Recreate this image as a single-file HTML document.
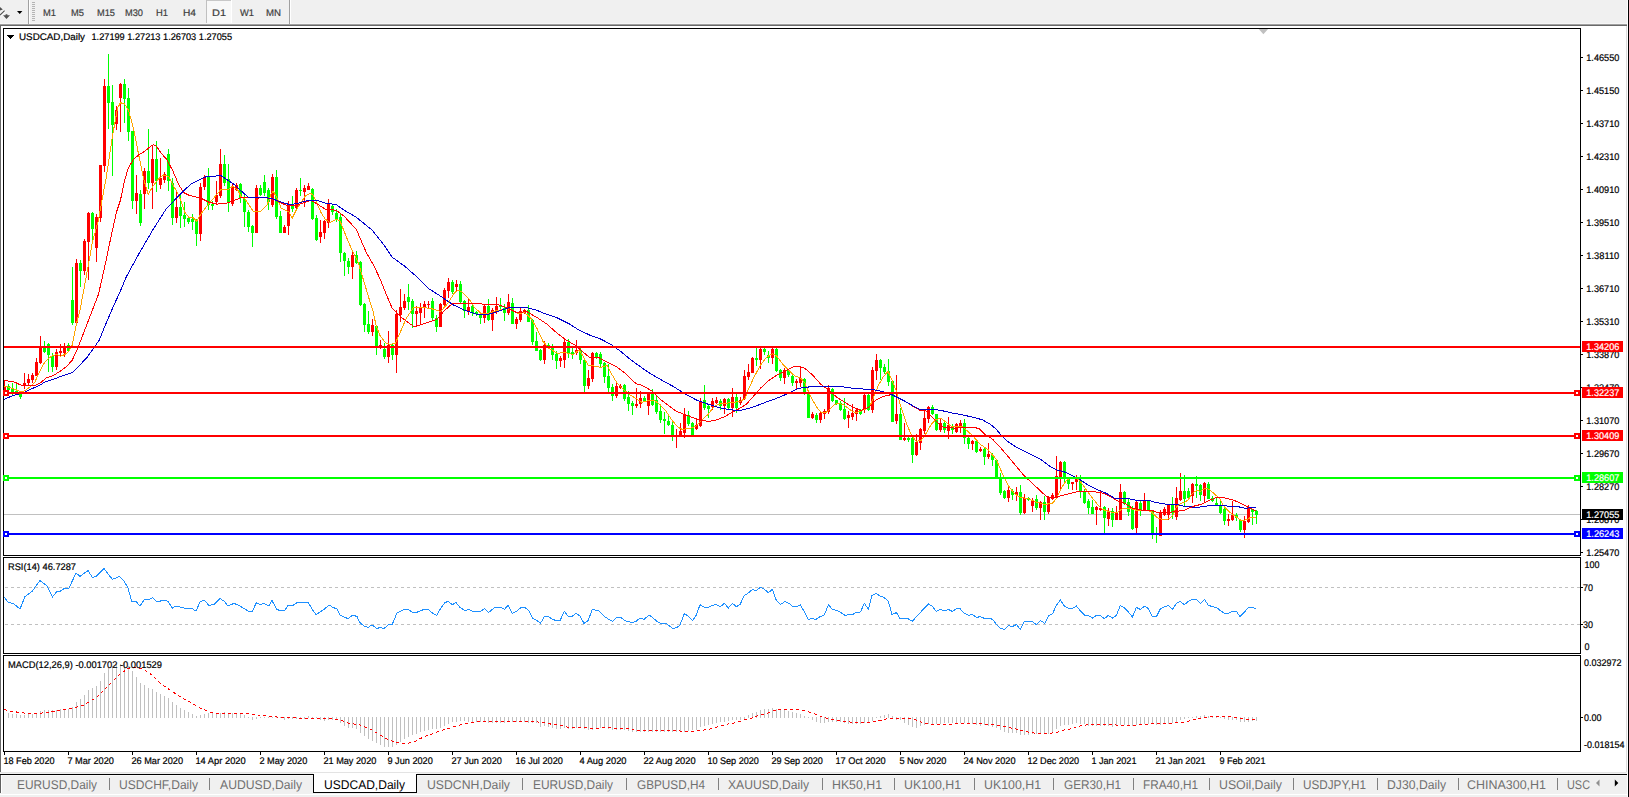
<!DOCTYPE html>
<html><head><meta charset="utf-8"><title>USDCAD,Daily</title>
<style>html,body{margin:0;padding:0;background:#fff;overflow:hidden}svg{display:block}text{font-family:"Liberation Sans",sans-serif;}</style>
</head><body>
<svg width="1629" height="797" viewBox="0 0 1629 797" shape-rendering="crispEdges" text-rendering="geometricPrecision">
<rect x="0" y="0" width="1629" height="797" fill="#ffffff" />
<rect x="0" y="0" width="1629" height="24" fill="#f0f0f0" />
<rect x="0" y="23" width="1629" height="1" fill="#f6f6f6" />
<rect x="0" y="24" width="1629" height="1" fill="#a0a0a0" />
<rect x="0" y="25" width="1629" height="1" fill="#696969" />
<rect x="0" y="26" width="1626" height="2" fill="#ffffff" />
<rect x="1626" y="26" width="1" height="746" fill="#dcdcdc" />
<rect x="0" y="26" width="1" height="746" fill="#696969" />
<rect x="0" y="772" width="1629" height="25" fill="#f0f0f0" />
<rect x="0" y="772" width="1626" height="1" fill="#e3e3e3" />
<rect x="0" y="794" width="1629" height="1" fill="#ffffff" />
<rect x="0" y="775" width="1626" height="1" fill="#f8f8f8" />
<g shape-rendering="geometricPrecision"><path d="M0 7 L2.8 9.6 L0 10.6 z" fill="#505050"/><path d="M0 15.6 L4.8 10.6" stroke="#ffffff" stroke-width="2.6" fill="none"/><path d="M0 15.2 L4.6 10.6" stroke="#505050" stroke-width="1.2" fill="none"/><path d="M3.1 15.2 L5.6 15.2 L5.6 14.2 L7.4 14.2 L7.4 15.2 L10 15.2 L6.5 19 z" fill="#505050"/></g>
<path d="M17 11.1 h5.4 l-2.7 3 z" fill="#000" shape-rendering="geometricPrecision"/>
<rect x="28" y="0" width="1" height="24" fill="#a0a0a0" />
<rect x="29" y="0" width="1" height="24" fill="#ffffff" />
<rect x="32" y="2" width="3" height="1" fill="#b4b4b4" />
<rect x="32" y="4" width="3" height="1" fill="#b4b4b4" />
<rect x="32" y="6" width="3" height="1" fill="#b4b4b4" />
<rect x="32" y="8" width="3" height="1" fill="#b4b4b4" />
<rect x="32" y="10" width="3" height="1" fill="#b4b4b4" />
<rect x="32" y="12" width="3" height="1" fill="#b4b4b4" />
<rect x="32" y="14" width="3" height="1" fill="#b4b4b4" />
<rect x="32" y="16" width="3" height="1" fill="#b4b4b4" />
<rect x="32" y="18" width="3" height="1" fill="#b4b4b4" />
<rect x="32" y="20" width="3" height="1" fill="#b4b4b4" />
<rect x="206" y="1" width="25" height="22" fill="#f8f8f8" />
<rect x="206" y="0" width="25" height="1" fill="#c8c8c8" />
<rect x="206" y="0" width="1" height="23" fill="#c0c0c0" />
<rect x="231" y="0" width="1" height="23" fill="#ffffff" />
<text x="43" y="15.5" font-size="9.5" fill="#404040" stroke="#404040" stroke-width="0.2" text-anchor="start"  textLength="13" lengthAdjust="spacingAndGlyphs">M1</text>
<text x="71" y="15.5" font-size="9.5" fill="#404040" stroke="#404040" stroke-width="0.2" text-anchor="start"  textLength="13" lengthAdjust="spacingAndGlyphs">M5</text>
<text x="97" y="15.5" font-size="9.5" fill="#404040" stroke="#404040" stroke-width="0.2" text-anchor="start"  textLength="18" lengthAdjust="spacingAndGlyphs">M15</text>
<text x="125" y="15.5" font-size="9.5" fill="#404040" stroke="#404040" stroke-width="0.2" text-anchor="start"  textLength="18" lengthAdjust="spacingAndGlyphs">M30</text>
<text x="156" y="15.5" font-size="9.5" fill="#404040" stroke="#404040" stroke-width="0.2" text-anchor="start"  textLength="12" lengthAdjust="spacingAndGlyphs">H1</text>
<text x="183" y="15.5" font-size="9.5" fill="#404040" stroke="#404040" stroke-width="0.2" text-anchor="start"  textLength="13" lengthAdjust="spacingAndGlyphs">H4</text>
<text x="212" y="15.5" font-size="9.5" fill="#404040" stroke="#404040" stroke-width="0.2" text-anchor="start"  textLength="14" lengthAdjust="spacingAndGlyphs">D1</text>
<text x="240" y="15.5" font-size="9.5" fill="#404040" stroke="#404040" stroke-width="0.2" text-anchor="start"  textLength="14" lengthAdjust="spacingAndGlyphs">W1</text>
<text x="266" y="15.5" font-size="9.5" fill="#404040" stroke="#404040" stroke-width="0.2" text-anchor="start"  textLength="15" lengthAdjust="spacingAndGlyphs">MN</text>
<rect x="289" y="0" width="1" height="24" fill="#a0a0a0" />
<rect x="290" y="0" width="1" height="24" fill="#ffffff" />
<rect x="3" y="28" width="1578" height="1" fill="#000" />
<rect x="3" y="555" width="1578" height="1" fill="#000" />
<rect x="3" y="28" width="1" height="528" fill="#000" />
<rect x="1580" y="28" width="1" height="528" fill="#000" />
<rect x="3" y="557" width="1578" height="1" fill="#000" />
<rect x="3" y="653" width="1578" height="1" fill="#000" />
<rect x="3" y="557" width="1" height="97" fill="#000" />
<rect x="1580" y="557" width="1" height="97" fill="#000" />
<rect x="3" y="655" width="1578" height="1" fill="#000" />
<rect x="3" y="751" width="1578" height="1" fill="#000" />
<rect x="3" y="655" width="1" height="97" fill="#000" />
<rect x="1580" y="655" width="1" height="97" fill="#000" />
<path d="M1258.7 29 h9.4 l-4.7 5.2 z" fill="#c0c0c0" shape-rendering="geometricPrecision"/>
<clipPath id="cm"><rect x="4" y="29" width="1576" height="526"/></clipPath>
<g clip-path="url(#cm)">
<rect x="4" y="514" width="1576" height="1" fill="#c0c0c0"/>
<rect x="4" y="380" width="1" height="12" fill="#ff0000"/>
<rect x="3" y="386" width="3" height="5" fill="#ff0000"/>
<rect x="8" y="384" width="1" height="8" fill="#00ff00"/>
<rect x="7" y="386" width="3" height="4" fill="#00ff00"/>
<rect x="12" y="383" width="1" height="12" fill="#00ff00"/>
<rect x="11" y="389" width="3" height="3" fill="#00ff00"/>
<rect x="16" y="382" width="1" height="13" fill="#00ff00"/>
<rect x="15" y="391" width="3" height="3" fill="#00ff00"/>
<rect x="20" y="394" width="1" height="5" fill="#00ff00"/>
<rect x="19" y="394" width="3" height="3" fill="#00ff00"/>
<rect x="24" y="373" width="1" height="16" fill="#ff0000"/>
<rect x="23" y="383" width="3" height="3" fill="#ff0000"/>
<rect x="28" y="374" width="1" height="11" fill="#ff0000"/>
<rect x="27" y="379" width="3" height="4" fill="#ff0000"/>
<rect x="32" y="373" width="1" height="10" fill="#ff0000"/>
<rect x="31" y="375" width="3" height="5" fill="#ff0000"/>
<rect x="36" y="358" width="1" height="18" fill="#ff0000"/>
<rect x="35" y="362" width="3" height="14" fill="#ff0000"/>
<rect x="40" y="336" width="1" height="28" fill="#ff0000"/>
<rect x="39" y="347" width="3" height="16" fill="#ff0000"/>
<rect x="44" y="341" width="1" height="12" fill="#00ff00"/>
<rect x="43" y="347" width="3" height="5" fill="#00ff00"/>
<rect x="48" y="343" width="1" height="29" fill="#00ff00"/>
<rect x="47" y="344" width="3" height="11" fill="#00ff00"/>
<rect x="52" y="353" width="1" height="19" fill="#00ff00"/>
<rect x="51" y="356" width="3" height="11" fill="#00ff00"/>
<rect x="56" y="349" width="1" height="21" fill="#ff0000"/>
<rect x="55" y="352" width="3" height="15" fill="#ff0000"/>
<rect x="60" y="344" width="1" height="13" fill="#ff0000"/>
<rect x="59" y="351" width="3" height="2" fill="#ff0000"/>
<rect x="64" y="343" width="1" height="14" fill="#ff0000"/>
<rect x="63" y="348" width="3" height="5" fill="#ff0000"/>
<rect x="68" y="343" width="1" height="9" fill="#00ff00"/>
<rect x="67" y="345" width="3" height="6" fill="#00ff00"/>
<rect x="72" y="267" width="1" height="58" fill="#00ff00"/>
<rect x="71" y="300" width="3" height="23" fill="#00ff00"/>
<rect x="76" y="259" width="1" height="64" fill="#ff0000"/>
<rect x="75" y="263" width="3" height="60" fill="#ff0000"/>
<rect x="80" y="260" width="1" height="27" fill="#00ff00"/>
<rect x="79" y="263" width="3" height="8" fill="#00ff00"/>
<rect x="84" y="239" width="1" height="36" fill="#ff0000"/>
<rect x="83" y="241" width="3" height="30" fill="#ff0000"/>
<rect x="88" y="212" width="1" height="68" fill="#ff0000"/>
<rect x="87" y="213" width="3" height="29" fill="#ff0000"/>
<rect x="92" y="212" width="1" height="29" fill="#00ff00"/>
<rect x="91" y="213" width="3" height="16" fill="#00ff00"/>
<rect x="96" y="214" width="1" height="48" fill="#ff0000"/>
<rect x="95" y="217" width="3" height="31" fill="#ff0000"/>
<rect x="100" y="165" width="1" height="57" fill="#ff0000"/>
<rect x="99" y="165" width="3" height="53" fill="#ff0000"/>
<rect x="104" y="79" width="1" height="93" fill="#ff0000"/>
<rect x="103" y="86" width="3" height="80" fill="#ff0000"/>
<rect x="108" y="54" width="1" height="75" fill="#00ff00"/>
<rect x="107" y="86" width="3" height="17" fill="#00ff00"/>
<rect x="112" y="85" width="1" height="91" fill="#00ff00"/>
<rect x="111" y="102" width="3" height="23" fill="#00ff00"/>
<rect x="116" y="106" width="1" height="24" fill="#ff0000"/>
<rect x="115" y="110" width="3" height="14" fill="#ff0000"/>
<rect x="120" y="83" width="1" height="49" fill="#ff0000"/>
<rect x="119" y="84" width="3" height="14" fill="#ff0000"/>
<rect x="124" y="79" width="1" height="44" fill="#00ff00"/>
<rect x="123" y="84" width="3" height="15" fill="#00ff00"/>
<rect x="128" y="88" width="1" height="53" fill="#00ff00"/>
<rect x="127" y="98" width="3" height="34" fill="#00ff00"/>
<rect x="132" y="131" width="1" height="78" fill="#00ff00"/>
<rect x="131" y="131" width="3" height="70" fill="#00ff00"/>
<rect x="136" y="175" width="1" height="39" fill="#ff0000"/>
<rect x="135" y="193" width="3" height="8" fill="#ff0000"/>
<rect x="140" y="190" width="1" height="36" fill="#00ff00"/>
<rect x="139" y="194" width="3" height="29" fill="#00ff00"/>
<rect x="144" y="168" width="1" height="41" fill="#ff0000"/>
<rect x="143" y="171" width="3" height="23" fill="#ff0000"/>
<rect x="148" y="129" width="1" height="60" fill="#00ff00"/>
<rect x="147" y="171" width="3" height="12" fill="#00ff00"/>
<rect x="152" y="146" width="1" height="63" fill="#ff0000"/>
<rect x="151" y="159" width="3" height="24" fill="#ff0000"/>
<rect x="156" y="141" width="1" height="51" fill="#00ff00"/>
<rect x="155" y="159" width="3" height="22" fill="#00ff00"/>
<rect x="160" y="158" width="1" height="31" fill="#ff0000"/>
<rect x="159" y="178" width="3" height="7" fill="#ff0000"/>
<rect x="164" y="172" width="1" height="11" fill="#ff0000"/>
<rect x="163" y="174" width="3" height="6" fill="#ff0000"/>
<rect x="168" y="149" width="1" height="42" fill="#00ff00"/>
<rect x="167" y="154" width="3" height="27" fill="#00ff00"/>
<rect x="172" y="178" width="1" height="47" fill="#00ff00"/>
<rect x="171" y="183" width="3" height="35" fill="#00ff00"/>
<rect x="176" y="192" width="1" height="31" fill="#ff0000"/>
<rect x="175" y="207" width="3" height="11" fill="#ff0000"/>
<rect x="180" y="195" width="1" height="33" fill="#00ff00"/>
<rect x="179" y="207" width="3" height="9" fill="#00ff00"/>
<rect x="184" y="202" width="1" height="25" fill="#00ff00"/>
<rect x="183" y="215" width="3" height="4" fill="#00ff00"/>
<rect x="188" y="216" width="1" height="8" fill="#00ff00"/>
<rect x="187" y="218" width="3" height="4" fill="#00ff00"/>
<rect x="192" y="214" width="1" height="16" fill="#00ff00"/>
<rect x="191" y="219" width="3" height="3" fill="#00ff00"/>
<rect x="196" y="219" width="1" height="27" fill="#00ff00"/>
<rect x="195" y="221" width="3" height="13" fill="#00ff00"/>
<rect x="200" y="183" width="1" height="58" fill="#ff0000"/>
<rect x="199" y="187" width="3" height="47" fill="#ff0000"/>
<rect x="204" y="175" width="1" height="15" fill="#ff0000"/>
<rect x="203" y="178" width="3" height="9" fill="#ff0000"/>
<rect x="208" y="168" width="1" height="42" fill="#00ff00"/>
<rect x="207" y="176" width="3" height="29" fill="#00ff00"/>
<rect x="212" y="201" width="1" height="9" fill="#00ff00"/>
<rect x="211" y="204" width="3" height="2" fill="#00ff00"/>
<rect x="216" y="181" width="1" height="23" fill="#ff0000"/>
<rect x="215" y="195" width="3" height="7" fill="#ff0000"/>
<rect x="220" y="149" width="1" height="49" fill="#ff0000"/>
<rect x="219" y="164" width="3" height="32" fill="#ff0000"/>
<rect x="224" y="155" width="1" height="31" fill="#00ff00"/>
<rect x="223" y="164" width="3" height="19" fill="#00ff00"/>
<rect x="228" y="164" width="1" height="48" fill="#00ff00"/>
<rect x="227" y="179" width="3" height="23" fill="#00ff00"/>
<rect x="232" y="183" width="1" height="23" fill="#ff0000"/>
<rect x="231" y="187" width="3" height="17" fill="#ff0000"/>
<rect x="236" y="183" width="1" height="8" fill="#ff0000"/>
<rect x="235" y="185" width="3" height="5" fill="#ff0000"/>
<rect x="240" y="183" width="1" height="20" fill="#00ff00"/>
<rect x="239" y="184" width="3" height="14" fill="#00ff00"/>
<rect x="244" y="195" width="1" height="32" fill="#00ff00"/>
<rect x="243" y="199" width="3" height="13" fill="#00ff00"/>
<rect x="248" y="210" width="1" height="22" fill="#00ff00"/>
<rect x="247" y="212" width="3" height="15" fill="#00ff00"/>
<rect x="252" y="225" width="1" height="22" fill="#00ff00"/>
<rect x="251" y="226" width="3" height="7" fill="#00ff00"/>
<rect x="256" y="185" width="1" height="48" fill="#ff0000"/>
<rect x="255" y="188" width="3" height="45" fill="#ff0000"/>
<rect x="260" y="185" width="1" height="11" fill="#00ff00"/>
<rect x="259" y="188" width="3" height="7" fill="#00ff00"/>
<rect x="264" y="175" width="1" height="21" fill="#00ff00"/>
<rect x="263" y="182" width="3" height="11" fill="#00ff00"/>
<rect x="268" y="188" width="1" height="22" fill="#00ff00"/>
<rect x="267" y="190" width="3" height="12" fill="#00ff00"/>
<rect x="272" y="174" width="1" height="33" fill="#ff0000"/>
<rect x="271" y="177" width="3" height="28" fill="#ff0000"/>
<rect x="276" y="170" width="1" height="49" fill="#00ff00"/>
<rect x="275" y="177" width="3" height="40" fill="#00ff00"/>
<rect x="280" y="211" width="1" height="22" fill="#00ff00"/>
<rect x="279" y="216" width="3" height="17" fill="#00ff00"/>
<rect x="284" y="225" width="1" height="8" fill="#ff0000"/>
<rect x="283" y="227" width="3" height="6" fill="#ff0000"/>
<rect x="288" y="201" width="1" height="34" fill="#ff0000"/>
<rect x="287" y="205" width="3" height="21" fill="#ff0000"/>
<rect x="292" y="196" width="1" height="16" fill="#00ff00"/>
<rect x="291" y="206" width="3" height="3" fill="#00ff00"/>
<rect x="296" y="188" width="1" height="22" fill="#ff0000"/>
<rect x="295" y="190" width="3" height="18" fill="#ff0000"/>
<rect x="300" y="178" width="1" height="18" fill="#00ff00"/>
<rect x="299" y="190" width="3" height="1" fill="#00ff00"/>
<rect x="304" y="185" width="1" height="22" fill="#ff0000"/>
<rect x="303" y="188" width="3" height="4" fill="#ff0000"/>
<rect x="308" y="183" width="1" height="7" fill="#ff0000"/>
<rect x="307" y="186" width="3" height="4" fill="#ff0000"/>
<rect x="312" y="188" width="1" height="32" fill="#00ff00"/>
<rect x="311" y="189" width="3" height="30" fill="#00ff00"/>
<rect x="316" y="215" width="1" height="26" fill="#00ff00"/>
<rect x="315" y="218" width="3" height="22" fill="#00ff00"/>
<rect x="320" y="220" width="1" height="23" fill="#ff0000"/>
<rect x="319" y="232" width="3" height="5" fill="#ff0000"/>
<rect x="324" y="220" width="1" height="19" fill="#ff0000"/>
<rect x="323" y="221" width="3" height="12" fill="#ff0000"/>
<rect x="328" y="199" width="1" height="29" fill="#ff0000"/>
<rect x="327" y="204" width="3" height="19" fill="#ff0000"/>
<rect x="332" y="204" width="1" height="11" fill="#00ff00"/>
<rect x="331" y="206" width="3" height="6" fill="#00ff00"/>
<rect x="336" y="209" width="1" height="13" fill="#00ff00"/>
<rect x="335" y="213" width="3" height="6" fill="#00ff00"/>
<rect x="340" y="214" width="1" height="48" fill="#00ff00"/>
<rect x="339" y="217" width="3" height="36" fill="#00ff00"/>
<rect x="344" y="252" width="1" height="24" fill="#00ff00"/>
<rect x="343" y="253" width="3" height="8" fill="#00ff00"/>
<rect x="348" y="258" width="1" height="16" fill="#00ff00"/>
<rect x="347" y="261" width="3" height="6" fill="#00ff00"/>
<rect x="352" y="252" width="1" height="27" fill="#ff0000"/>
<rect x="351" y="255" width="3" height="12" fill="#ff0000"/>
<rect x="356" y="251" width="1" height="13" fill="#00ff00"/>
<rect x="355" y="255" width="3" height="8" fill="#00ff00"/>
<rect x="360" y="261" width="1" height="45" fill="#00ff00"/>
<rect x="359" y="262" width="3" height="43" fill="#00ff00"/>
<rect x="364" y="303" width="1" height="29" fill="#00ff00"/>
<rect x="363" y="304" width="3" height="21" fill="#00ff00"/>
<rect x="368" y="311" width="1" height="23" fill="#00ff00"/>
<rect x="367" y="324" width="3" height="8" fill="#00ff00"/>
<rect x="372" y="319" width="1" height="17" fill="#ff0000"/>
<rect x="371" y="325" width="3" height="7" fill="#ff0000"/>
<rect x="376" y="325" width="1" height="30" fill="#00ff00"/>
<rect x="375" y="326" width="3" height="20" fill="#00ff00"/>
<rect x="380" y="340" width="1" height="9" fill="#ff0000"/>
<rect x="379" y="345" width="3" height="3" fill="#ff0000"/>
<rect x="384" y="343" width="1" height="16" fill="#00ff00"/>
<rect x="383" y="349" width="3" height="8" fill="#00ff00"/>
<rect x="388" y="331" width="1" height="32" fill="#ff0000"/>
<rect x="387" y="345" width="3" height="12" fill="#ff0000"/>
<rect x="392" y="343" width="1" height="17" fill="#00ff00"/>
<rect x="391" y="345" width="3" height="10" fill="#00ff00"/>
<rect x="396" y="310" width="1" height="63" fill="#ff0000"/>
<rect x="395" y="314" width="3" height="41" fill="#ff0000"/>
<rect x="400" y="289" width="1" height="33" fill="#ff0000"/>
<rect x="399" y="307" width="3" height="8" fill="#ff0000"/>
<rect x="404" y="294" width="1" height="16" fill="#ff0000"/>
<rect x="403" y="301" width="3" height="7" fill="#ff0000"/>
<rect x="408" y="284" width="1" height="26" fill="#00ff00"/>
<rect x="407" y="297" width="3" height="5" fill="#00ff00"/>
<rect x="412" y="299" width="1" height="29" fill="#00ff00"/>
<rect x="411" y="301" width="3" height="13" fill="#00ff00"/>
<rect x="416" y="306" width="1" height="20" fill="#ff0000"/>
<rect x="415" y="311" width="3" height="3" fill="#ff0000"/>
<rect x="420" y="303" width="1" height="21" fill="#ff0000"/>
<rect x="419" y="307" width="3" height="6" fill="#ff0000"/>
<rect x="424" y="301" width="1" height="17" fill="#ff0000"/>
<rect x="423" y="304" width="3" height="4" fill="#ff0000"/>
<rect x="428" y="301" width="1" height="7" fill="#ff0000"/>
<rect x="427" y="304" width="3" height="1" fill="#ff0000"/>
<rect x="432" y="298" width="1" height="22" fill="#00ff00"/>
<rect x="431" y="301" width="3" height="17" fill="#00ff00"/>
<rect x="436" y="315" width="1" height="17" fill="#00ff00"/>
<rect x="435" y="318" width="3" height="9" fill="#00ff00"/>
<rect x="440" y="303" width="1" height="24" fill="#ff0000"/>
<rect x="439" y="304" width="3" height="23" fill="#ff0000"/>
<rect x="444" y="288" width="1" height="19" fill="#ff0000"/>
<rect x="443" y="290" width="3" height="15" fill="#ff0000"/>
<rect x="448" y="278" width="1" height="20" fill="#ff0000"/>
<rect x="447" y="282" width="3" height="9" fill="#ff0000"/>
<rect x="452" y="280" width="1" height="14" fill="#00ff00"/>
<rect x="451" y="282" width="3" height="10" fill="#00ff00"/>
<rect x="456" y="280" width="1" height="11" fill="#ff0000"/>
<rect x="455" y="284" width="3" height="3" fill="#ff0000"/>
<rect x="460" y="281" width="1" height="23" fill="#00ff00"/>
<rect x="459" y="284" width="3" height="18" fill="#00ff00"/>
<rect x="464" y="300" width="1" height="18" fill="#00ff00"/>
<rect x="463" y="301" width="3" height="10" fill="#00ff00"/>
<rect x="468" y="299" width="1" height="16" fill="#ff0000"/>
<rect x="467" y="307" width="3" height="5" fill="#ff0000"/>
<rect x="472" y="304" width="1" height="12" fill="#00ff00"/>
<rect x="471" y="306" width="3" height="7" fill="#00ff00"/>
<rect x="476" y="311" width="1" height="5" fill="#00ff00"/>
<rect x="475" y="312" width="3" height="2" fill="#00ff00"/>
<rect x="480" y="313" width="1" height="11" fill="#00ff00"/>
<rect x="479" y="315" width="3" height="3" fill="#00ff00"/>
<rect x="484" y="304" width="1" height="19" fill="#ff0000"/>
<rect x="483" y="306" width="3" height="12" fill="#ff0000"/>
<rect x="488" y="299" width="1" height="22" fill="#00ff00"/>
<rect x="487" y="306" width="3" height="14" fill="#00ff00"/>
<rect x="492" y="308" width="1" height="23" fill="#ff0000"/>
<rect x="491" y="310" width="3" height="10" fill="#ff0000"/>
<rect x="496" y="297" width="1" height="17" fill="#ff0000"/>
<rect x="495" y="306" width="3" height="6" fill="#ff0000"/>
<rect x="500" y="298" width="1" height="12" fill="#00ff00"/>
<rect x="499" y="305" width="3" height="2" fill="#00ff00"/>
<rect x="504" y="304" width="1" height="17" fill="#00ff00"/>
<rect x="503" y="308" width="3" height="5" fill="#00ff00"/>
<rect x="508" y="294" width="1" height="21" fill="#ff0000"/>
<rect x="507" y="302" width="3" height="11" fill="#ff0000"/>
<rect x="512" y="298" width="1" height="26" fill="#00ff00"/>
<rect x="511" y="303" width="3" height="21" fill="#00ff00"/>
<rect x="516" y="317" width="1" height="12" fill="#ff0000"/>
<rect x="515" y="319" width="3" height="5" fill="#ff0000"/>
<rect x="520" y="308" width="1" height="14" fill="#ff0000"/>
<rect x="519" y="311" width="3" height="9" fill="#ff0000"/>
<rect x="524" y="309" width="1" height="5" fill="#ff0000"/>
<rect x="523" y="310" width="3" height="3" fill="#ff0000"/>
<rect x="528" y="305" width="1" height="17" fill="#00ff00"/>
<rect x="527" y="310" width="3" height="12" fill="#00ff00"/>
<rect x="532" y="319" width="1" height="26" fill="#00ff00"/>
<rect x="531" y="320" width="3" height="22" fill="#00ff00"/>
<rect x="536" y="332" width="1" height="19" fill="#00ff00"/>
<rect x="535" y="341" width="3" height="10" fill="#00ff00"/>
<rect x="540" y="349" width="1" height="12" fill="#00ff00"/>
<rect x="539" y="350" width="3" height="10" fill="#00ff00"/>
<rect x="544" y="341" width="1" height="23" fill="#ff0000"/>
<rect x="543" y="345" width="3" height="15" fill="#ff0000"/>
<rect x="548" y="343" width="1" height="6" fill="#00ff00"/>
<rect x="547" y="345" width="3" height="3" fill="#00ff00"/>
<rect x="552" y="344" width="1" height="16" fill="#00ff00"/>
<rect x="551" y="348" width="3" height="7" fill="#00ff00"/>
<rect x="556" y="351" width="1" height="18" fill="#00ff00"/>
<rect x="555" y="354" width="3" height="7" fill="#00ff00"/>
<rect x="560" y="356" width="1" height="11" fill="#ff0000"/>
<rect x="559" y="358" width="3" height="3" fill="#ff0000"/>
<rect x="564" y="339" width="1" height="29" fill="#ff0000"/>
<rect x="563" y="342" width="3" height="18" fill="#ff0000"/>
<rect x="568" y="339" width="1" height="19" fill="#00ff00"/>
<rect x="567" y="342" width="3" height="12" fill="#00ff00"/>
<rect x="572" y="346" width="1" height="13" fill="#00ff00"/>
<rect x="571" y="352" width="3" height="3" fill="#00ff00"/>
<rect x="576" y="340" width="1" height="15" fill="#ff0000"/>
<rect x="575" y="350" width="3" height="3" fill="#ff0000"/>
<rect x="580" y="348" width="1" height="16" fill="#00ff00"/>
<rect x="579" y="350" width="3" height="10" fill="#00ff00"/>
<rect x="584" y="358" width="1" height="34" fill="#00ff00"/>
<rect x="583" y="360" width="3" height="26" fill="#00ff00"/>
<rect x="588" y="370" width="1" height="19" fill="#ff0000"/>
<rect x="587" y="378" width="3" height="8" fill="#ff0000"/>
<rect x="592" y="352" width="1" height="30" fill="#ff0000"/>
<rect x="591" y="353" width="3" height="26" fill="#ff0000"/>
<rect x="596" y="352" width="1" height="7" fill="#00ff00"/>
<rect x="595" y="353" width="3" height="4" fill="#00ff00"/>
<rect x="600" y="352" width="1" height="15" fill="#00ff00"/>
<rect x="599" y="354" width="3" height="10" fill="#00ff00"/>
<rect x="604" y="362" width="1" height="21" fill="#00ff00"/>
<rect x="603" y="363" width="3" height="14" fill="#00ff00"/>
<rect x="608" y="364" width="1" height="30" fill="#00ff00"/>
<rect x="607" y="376" width="3" height="12" fill="#00ff00"/>
<rect x="612" y="384" width="1" height="17" fill="#00ff00"/>
<rect x="611" y="387" width="3" height="9" fill="#00ff00"/>
<rect x="616" y="382" width="1" height="16" fill="#ff0000"/>
<rect x="615" y="386" width="3" height="10" fill="#ff0000"/>
<rect x="620" y="384" width="1" height="5" fill="#ff0000"/>
<rect x="619" y="386" width="3" height="2" fill="#ff0000"/>
<rect x="624" y="384" width="1" height="17" fill="#00ff00"/>
<rect x="623" y="385" width="3" height="14" fill="#00ff00"/>
<rect x="628" y="391" width="1" height="20" fill="#00ff00"/>
<rect x="627" y="397" width="3" height="7" fill="#00ff00"/>
<rect x="632" y="401" width="1" height="14" fill="#00ff00"/>
<rect x="631" y="403" width="3" height="3" fill="#00ff00"/>
<rect x="636" y="388" width="1" height="20" fill="#ff0000"/>
<rect x="635" y="404" width="3" height="2" fill="#ff0000"/>
<rect x="640" y="391" width="1" height="17" fill="#ff0000"/>
<rect x="639" y="398" width="3" height="6" fill="#ff0000"/>
<rect x="644" y="396" width="1" height="6" fill="#00ff00"/>
<rect x="643" y="398" width="3" height="3" fill="#00ff00"/>
<rect x="648" y="392" width="1" height="23" fill="#ff0000"/>
<rect x="647" y="394" width="3" height="12" fill="#ff0000"/>
<rect x="652" y="389" width="1" height="17" fill="#00ff00"/>
<rect x="651" y="394" width="3" height="11" fill="#00ff00"/>
<rect x="656" y="396" width="1" height="18" fill="#00ff00"/>
<rect x="655" y="400" width="3" height="12" fill="#00ff00"/>
<rect x="660" y="406" width="1" height="17" fill="#00ff00"/>
<rect x="659" y="411" width="3" height="9" fill="#00ff00"/>
<rect x="664" y="412" width="1" height="22" fill="#00ff00"/>
<rect x="663" y="419" width="3" height="2" fill="#00ff00"/>
<rect x="668" y="415" width="1" height="11" fill="#00ff00"/>
<rect x="667" y="421" width="3" height="4" fill="#00ff00"/>
<rect x="672" y="421" width="1" height="20" fill="#00ff00"/>
<rect x="671" y="425" width="3" height="12" fill="#00ff00"/>
<rect x="676" y="429" width="1" height="19" fill="#ff0000"/>
<rect x="675" y="435" width="3" height="2" fill="#ff0000"/>
<rect x="680" y="423" width="1" height="13" fill="#ff0000"/>
<rect x="679" y="431" width="3" height="4" fill="#ff0000"/>
<rect x="684" y="408" width="1" height="30" fill="#ff0000"/>
<rect x="683" y="414" width="3" height="19" fill="#ff0000"/>
<rect x="688" y="411" width="1" height="15" fill="#00ff00"/>
<rect x="687" y="415" width="3" height="9" fill="#00ff00"/>
<rect x="692" y="422" width="1" height="13" fill="#00ff00"/>
<rect x="691" y="423" width="3" height="12" fill="#00ff00"/>
<rect x="696" y="419" width="1" height="11" fill="#ff0000"/>
<rect x="695" y="425" width="3" height="4" fill="#ff0000"/>
<rect x="700" y="398" width="1" height="29" fill="#ff0000"/>
<rect x="699" y="401" width="3" height="25" fill="#ff0000"/>
<rect x="704" y="385" width="1" height="25" fill="#00ff00"/>
<rect x="703" y="400" width="3" height="8" fill="#00ff00"/>
<rect x="708" y="405" width="1" height="13" fill="#00ff00"/>
<rect x="707" y="406" width="3" height="3" fill="#00ff00"/>
<rect x="712" y="398" width="1" height="12" fill="#ff0000"/>
<rect x="711" y="401" width="3" height="6" fill="#ff0000"/>
<rect x="716" y="397" width="1" height="7" fill="#ff0000"/>
<rect x="715" y="400" width="3" height="3" fill="#ff0000"/>
<rect x="720" y="399" width="1" height="11" fill="#00ff00"/>
<rect x="719" y="401" width="3" height="5" fill="#00ff00"/>
<rect x="724" y="398" width="1" height="16" fill="#ff0000"/>
<rect x="723" y="399" width="3" height="7" fill="#ff0000"/>
<rect x="728" y="398" width="1" height="11" fill="#00ff00"/>
<rect x="727" y="399" width="3" height="9" fill="#00ff00"/>
<rect x="732" y="388" width="1" height="29" fill="#ff0000"/>
<rect x="731" y="397" width="3" height="11" fill="#ff0000"/>
<rect x="736" y="394" width="1" height="19" fill="#00ff00"/>
<rect x="735" y="397" width="3" height="11" fill="#00ff00"/>
<rect x="740" y="397" width="1" height="8" fill="#ff0000"/>
<rect x="739" y="400" width="3" height="3" fill="#ff0000"/>
<rect x="744" y="370" width="1" height="30" fill="#ff0000"/>
<rect x="743" y="376" width="3" height="23" fill="#ff0000"/>
<rect x="748" y="364" width="1" height="16" fill="#ff0000"/>
<rect x="747" y="372" width="3" height="5" fill="#ff0000"/>
<rect x="752" y="357" width="1" height="16" fill="#ff0000"/>
<rect x="751" y="358" width="3" height="15" fill="#ff0000"/>
<rect x="756" y="348" width="1" height="18" fill="#00ff00"/>
<rect x="755" y="358" width="3" height="2" fill="#00ff00"/>
<rect x="760" y="348" width="1" height="21" fill="#ff0000"/>
<rect x="759" y="349" width="3" height="11" fill="#ff0000"/>
<rect x="764" y="348" width="1" height="7" fill="#00ff00"/>
<rect x="763" y="349" width="3" height="3" fill="#00ff00"/>
<rect x="768" y="351" width="1" height="12" fill="#00ff00"/>
<rect x="767" y="355" width="3" height="3" fill="#00ff00"/>
<rect x="772" y="348" width="1" height="16" fill="#ff0000"/>
<rect x="771" y="349" width="3" height="9" fill="#ff0000"/>
<rect x="776" y="348" width="1" height="24" fill="#00ff00"/>
<rect x="775" y="349" width="3" height="22" fill="#00ff00"/>
<rect x="780" y="369" width="1" height="12" fill="#00ff00"/>
<rect x="779" y="370" width="3" height="8" fill="#00ff00"/>
<rect x="784" y="368" width="1" height="16" fill="#ff0000"/>
<rect x="783" y="370" width="3" height="8" fill="#ff0000"/>
<rect x="788" y="369" width="1" height="8" fill="#00ff00"/>
<rect x="787" y="370" width="3" height="5" fill="#00ff00"/>
<rect x="792" y="375" width="1" height="11" fill="#00ff00"/>
<rect x="791" y="376" width="3" height="7" fill="#00ff00"/>
<rect x="796" y="379" width="1" height="10" fill="#ff0000"/>
<rect x="795" y="381" width="3" height="2" fill="#ff0000"/>
<rect x="800" y="366" width="1" height="21" fill="#ff0000"/>
<rect x="799" y="378" width="3" height="5" fill="#ff0000"/>
<rect x="804" y="378" width="1" height="17" fill="#00ff00"/>
<rect x="803" y="379" width="3" height="14" fill="#00ff00"/>
<rect x="808" y="393" width="1" height="25" fill="#00ff00"/>
<rect x="807" y="394" width="3" height="24" fill="#00ff00"/>
<rect x="812" y="412" width="1" height="7" fill="#ff0000"/>
<rect x="811" y="414" width="3" height="4" fill="#ff0000"/>
<rect x="816" y="413" width="1" height="10" fill="#00ff00"/>
<rect x="815" y="415" width="3" height="5" fill="#00ff00"/>
<rect x="820" y="411" width="1" height="12" fill="#ff0000"/>
<rect x="819" y="413" width="3" height="7" fill="#ff0000"/>
<rect x="824" y="409" width="1" height="10" fill="#ff0000"/>
<rect x="823" y="411" width="3" height="3" fill="#ff0000"/>
<rect x="828" y="385" width="1" height="29" fill="#ff0000"/>
<rect x="827" y="388" width="3" height="24" fill="#ff0000"/>
<rect x="832" y="388" width="1" height="14" fill="#00ff00"/>
<rect x="831" y="389" width="3" height="12" fill="#00ff00"/>
<rect x="836" y="400" width="1" height="5" fill="#00ff00"/>
<rect x="835" y="400" width="3" height="4" fill="#00ff00"/>
<rect x="840" y="401" width="1" height="10" fill="#00ff00"/>
<rect x="839" y="403" width="3" height="7" fill="#00ff00"/>
<rect x="844" y="398" width="1" height="22" fill="#00ff00"/>
<rect x="843" y="409" width="3" height="10" fill="#00ff00"/>
<rect x="848" y="411" width="1" height="17" fill="#ff0000"/>
<rect x="847" y="415" width="3" height="3" fill="#ff0000"/>
<rect x="852" y="404" width="1" height="16" fill="#ff0000"/>
<rect x="851" y="413" width="3" height="4" fill="#ff0000"/>
<rect x="856" y="408" width="1" height="13" fill="#ff0000"/>
<rect x="855" y="410" width="3" height="4" fill="#ff0000"/>
<rect x="860" y="409" width="1" height="6" fill="#00ff00"/>
<rect x="859" y="410" width="3" height="4" fill="#00ff00"/>
<rect x="864" y="394" width="1" height="19" fill="#ff0000"/>
<rect x="863" y="395" width="3" height="14" fill="#ff0000"/>
<rect x="868" y="394" width="1" height="17" fill="#00ff00"/>
<rect x="867" y="395" width="3" height="15" fill="#00ff00"/>
<rect x="872" y="367" width="1" height="46" fill="#ff0000"/>
<rect x="871" y="370" width="3" height="40" fill="#ff0000"/>
<rect x="876" y="354" width="1" height="26" fill="#ff0000"/>
<rect x="875" y="360" width="3" height="11" fill="#ff0000"/>
<rect x="880" y="359" width="1" height="21" fill="#00ff00"/>
<rect x="879" y="360" width="3" height="8" fill="#00ff00"/>
<rect x="884" y="364" width="1" height="10" fill="#00ff00"/>
<rect x="883" y="367" width="3" height="5" fill="#00ff00"/>
<rect x="888" y="359" width="1" height="27" fill="#00ff00"/>
<rect x="887" y="371" width="3" height="11" fill="#00ff00"/>
<rect x="892" y="380" width="1" height="42" fill="#00ff00"/>
<rect x="891" y="381" width="3" height="41" fill="#00ff00"/>
<rect x="896" y="375" width="1" height="49" fill="#ff0000"/>
<rect x="895" y="414" width="3" height="7" fill="#ff0000"/>
<rect x="900" y="408" width="1" height="32" fill="#00ff00"/>
<rect x="899" y="414" width="3" height="26" fill="#00ff00"/>
<rect x="904" y="423" width="1" height="18" fill="#ff0000"/>
<rect x="903" y="438" width="3" height="2" fill="#ff0000"/>
<rect x="908" y="437" width="1" height="5" fill="#00ff00"/>
<rect x="907" y="438" width="3" height="2" fill="#00ff00"/>
<rect x="912" y="437" width="1" height="26" fill="#00ff00"/>
<rect x="911" y="438" width="3" height="17" fill="#00ff00"/>
<rect x="916" y="434" width="1" height="22" fill="#ff0000"/>
<rect x="915" y="442" width="3" height="13" fill="#ff0000"/>
<rect x="920" y="428" width="1" height="22" fill="#ff0000"/>
<rect x="919" y="429" width="3" height="14" fill="#ff0000"/>
<rect x="924" y="411" width="1" height="23" fill="#ff0000"/>
<rect x="923" y="418" width="3" height="13" fill="#ff0000"/>
<rect x="928" y="406" width="1" height="17" fill="#ff0000"/>
<rect x="927" y="407" width="3" height="12" fill="#ff0000"/>
<rect x="932" y="405" width="1" height="10" fill="#00ff00"/>
<rect x="931" y="407" width="3" height="7" fill="#00ff00"/>
<rect x="936" y="414" width="1" height="17" fill="#00ff00"/>
<rect x="935" y="414" width="3" height="16" fill="#00ff00"/>
<rect x="940" y="418" width="1" height="14" fill="#ff0000"/>
<rect x="939" y="423" width="3" height="7" fill="#ff0000"/>
<rect x="944" y="421" width="1" height="12" fill="#00ff00"/>
<rect x="943" y="423" width="3" height="7" fill="#00ff00"/>
<rect x="948" y="417" width="1" height="22" fill="#ff0000"/>
<rect x="947" y="425" width="3" height="6" fill="#ff0000"/>
<rect x="952" y="424" width="1" height="10" fill="#00ff00"/>
<rect x="951" y="426" width="3" height="4" fill="#00ff00"/>
<rect x="956" y="423" width="1" height="10" fill="#ff0000"/>
<rect x="955" y="424" width="3" height="8" fill="#ff0000"/>
<rect x="960" y="420" width="1" height="13" fill="#ff0000"/>
<rect x="959" y="423" width="3" height="4" fill="#ff0000"/>
<rect x="964" y="419" width="1" height="25" fill="#00ff00"/>
<rect x="963" y="423" width="3" height="15" fill="#00ff00"/>
<rect x="968" y="437" width="1" height="12" fill="#00ff00"/>
<rect x="967" y="438" width="3" height="6" fill="#00ff00"/>
<rect x="972" y="440" width="1" height="10" fill="#ff0000"/>
<rect x="971" y="441" width="3" height="3" fill="#ff0000"/>
<rect x="976" y="440" width="1" height="13" fill="#00ff00"/>
<rect x="975" y="441" width="3" height="11" fill="#00ff00"/>
<rect x="980" y="447" width="1" height="5" fill="#ff0000"/>
<rect x="979" y="449" width="3" height="2" fill="#ff0000"/>
<rect x="984" y="448" width="1" height="17" fill="#00ff00"/>
<rect x="983" y="449" width="3" height="8" fill="#00ff00"/>
<rect x="988" y="443" width="1" height="16" fill="#ff0000"/>
<rect x="987" y="454" width="3" height="3" fill="#ff0000"/>
<rect x="992" y="453" width="1" height="13" fill="#00ff00"/>
<rect x="991" y="455" width="3" height="5" fill="#00ff00"/>
<rect x="996" y="459" width="1" height="19" fill="#00ff00"/>
<rect x="995" y="460" width="3" height="17" fill="#00ff00"/>
<rect x="1000" y="473" width="1" height="22" fill="#00ff00"/>
<rect x="999" y="478" width="3" height="15" fill="#00ff00"/>
<rect x="1004" y="490" width="1" height="9" fill="#00ff00"/>
<rect x="1003" y="491" width="3" height="7" fill="#00ff00"/>
<rect x="1008" y="485" width="1" height="17" fill="#ff0000"/>
<rect x="1007" y="490" width="3" height="8" fill="#ff0000"/>
<rect x="1012" y="489" width="1" height="11" fill="#00ff00"/>
<rect x="1011" y="491" width="3" height="4" fill="#00ff00"/>
<rect x="1016" y="487" width="1" height="14" fill="#ff0000"/>
<rect x="1015" y="492" width="3" height="3" fill="#ff0000"/>
<rect x="1020" y="485" width="1" height="30" fill="#00ff00"/>
<rect x="1019" y="492" width="3" height="21" fill="#00ff00"/>
<rect x="1024" y="494" width="1" height="20" fill="#ff0000"/>
<rect x="1023" y="498" width="3" height="15" fill="#ff0000"/>
<rect x="1028" y="497" width="1" height="4" fill="#00ff00"/>
<rect x="1027" y="498" width="3" height="2" fill="#00ff00"/>
<rect x="1032" y="498" width="1" height="14" fill="#ff0000"/>
<rect x="1031" y="500" width="3" height="6" fill="#ff0000"/>
<rect x="1036" y="495" width="1" height="15" fill="#00ff00"/>
<rect x="1035" y="499" width="3" height="9" fill="#00ff00"/>
<rect x="1040" y="501" width="1" height="19" fill="#ff0000"/>
<rect x="1039" y="502" width="3" height="6" fill="#ff0000"/>
<rect x="1044" y="496" width="1" height="24" fill="#00ff00"/>
<rect x="1043" y="502" width="3" height="10" fill="#00ff00"/>
<rect x="1048" y="496" width="1" height="18" fill="#ff0000"/>
<rect x="1047" y="497" width="3" height="15" fill="#ff0000"/>
<rect x="1052" y="493" width="1" height="7" fill="#ff0000"/>
<rect x="1051" y="495" width="3" height="4" fill="#ff0000"/>
<rect x="1056" y="456" width="1" height="43" fill="#ff0000"/>
<rect x="1055" y="476" width="3" height="22" fill="#ff0000"/>
<rect x="1060" y="461" width="1" height="30" fill="#ff0000"/>
<rect x="1059" y="462" width="3" height="17" fill="#ff0000"/>
<rect x="1064" y="461" width="1" height="21" fill="#00ff00"/>
<rect x="1063" y="462" width="3" height="16" fill="#00ff00"/>
<rect x="1068" y="478" width="1" height="11" fill="#00ff00"/>
<rect x="1067" y="479" width="3" height="5" fill="#00ff00"/>
<rect x="1072" y="482" width="1" height="8" fill="#ff0000"/>
<rect x="1071" y="482" width="3" height="2" fill="#ff0000"/>
<rect x="1076" y="475" width="1" height="15" fill="#ff0000"/>
<rect x="1075" y="479" width="3" height="3" fill="#ff0000"/>
<rect x="1080" y="475" width="1" height="23" fill="#00ff00"/>
<rect x="1079" y="480" width="3" height="11" fill="#00ff00"/>
<rect x="1084" y="489" width="1" height="15" fill="#00ff00"/>
<rect x="1083" y="491" width="3" height="12" fill="#00ff00"/>
<rect x="1088" y="499" width="1" height="15" fill="#00ff00"/>
<rect x="1087" y="501" width="3" height="7" fill="#00ff00"/>
<rect x="1092" y="500" width="1" height="14" fill="#00ff00"/>
<rect x="1091" y="507" width="3" height="7" fill="#00ff00"/>
<rect x="1096" y="506" width="1" height="19" fill="#ff0000"/>
<rect x="1095" y="507" width="3" height="3" fill="#ff0000"/>
<rect x="1100" y="491" width="1" height="20" fill="#ff0000"/>
<rect x="1099" y="508" width="3" height="2" fill="#ff0000"/>
<rect x="1104" y="506" width="1" height="27" fill="#00ff00"/>
<rect x="1103" y="507" width="3" height="11" fill="#00ff00"/>
<rect x="1108" y="508" width="1" height="18" fill="#ff0000"/>
<rect x="1107" y="511" width="3" height="8" fill="#ff0000"/>
<rect x="1112" y="508" width="1" height="19" fill="#00ff00"/>
<rect x="1111" y="511" width="3" height="9" fill="#00ff00"/>
<rect x="1116" y="506" width="1" height="14" fill="#ff0000"/>
<rect x="1115" y="512" width="3" height="8" fill="#ff0000"/>
<rect x="1120" y="484" width="1" height="36" fill="#ff0000"/>
<rect x="1119" y="492" width="3" height="28" fill="#ff0000"/>
<rect x="1124" y="491" width="1" height="14" fill="#00ff00"/>
<rect x="1123" y="492" width="3" height="12" fill="#00ff00"/>
<rect x="1128" y="499" width="1" height="17" fill="#00ff00"/>
<rect x="1127" y="502" width="3" height="10" fill="#00ff00"/>
<rect x="1132" y="506" width="1" height="24" fill="#00ff00"/>
<rect x="1131" y="509" width="3" height="20" fill="#00ff00"/>
<rect x="1136" y="501" width="1" height="33" fill="#ff0000"/>
<rect x="1135" y="502" width="3" height="26" fill="#ff0000"/>
<rect x="1140" y="501" width="1" height="15" fill="#00ff00"/>
<rect x="1139" y="503" width="3" height="7" fill="#00ff00"/>
<rect x="1144" y="493" width="1" height="17" fill="#ff0000"/>
<rect x="1143" y="501" width="3" height="9" fill="#ff0000"/>
<rect x="1148" y="500" width="1" height="11" fill="#00ff00"/>
<rect x="1147" y="501" width="3" height="9" fill="#00ff00"/>
<rect x="1152" y="510" width="1" height="29" fill="#00ff00"/>
<rect x="1151" y="511" width="3" height="23" fill="#00ff00"/>
<rect x="1156" y="527" width="1" height="16" fill="#00ff00"/>
<rect x="1155" y="533" width="3" height="2" fill="#00ff00"/>
<rect x="1160" y="510" width="1" height="26" fill="#ff0000"/>
<rect x="1159" y="512" width="3" height="24" fill="#ff0000"/>
<rect x="1164" y="507" width="1" height="9" fill="#ff0000"/>
<rect x="1163" y="509" width="3" height="6" fill="#ff0000"/>
<rect x="1168" y="504" width="1" height="16" fill="#ff0000"/>
<rect x="1167" y="505" width="3" height="10" fill="#ff0000"/>
<rect x="1172" y="497" width="1" height="22" fill="#00ff00"/>
<rect x="1171" y="504" width="3" height="9" fill="#00ff00"/>
<rect x="1176" y="487" width="1" height="33" fill="#ff0000"/>
<rect x="1175" y="498" width="3" height="19" fill="#ff0000"/>
<rect x="1180" y="473" width="1" height="28" fill="#ff0000"/>
<rect x="1179" y="491" width="3" height="9" fill="#ff0000"/>
<rect x="1184" y="475" width="1" height="31" fill="#00ff00"/>
<rect x="1183" y="491" width="3" height="8" fill="#00ff00"/>
<rect x="1188" y="488" width="1" height="12" fill="#00ff00"/>
<rect x="1187" y="491" width="3" height="7" fill="#00ff00"/>
<rect x="1192" y="483" width="1" height="20" fill="#ff0000"/>
<rect x="1191" y="484" width="3" height="12" fill="#ff0000"/>
<rect x="1196" y="476" width="1" height="22" fill="#00ff00"/>
<rect x="1195" y="484" width="3" height="2" fill="#00ff00"/>
<rect x="1200" y="484" width="1" height="17" fill="#00ff00"/>
<rect x="1199" y="485" width="3" height="10" fill="#00ff00"/>
<rect x="1204" y="482" width="1" height="20" fill="#ff0000"/>
<rect x="1203" y="483" width="3" height="13" fill="#ff0000"/>
<rect x="1208" y="482" width="1" height="17" fill="#00ff00"/>
<rect x="1207" y="484" width="3" height="15" fill="#00ff00"/>
<rect x="1212" y="496" width="1" height="6" fill="#00ff00"/>
<rect x="1211" y="498" width="3" height="3" fill="#00ff00"/>
<rect x="1216" y="497" width="1" height="9" fill="#00ff00"/>
<rect x="1215" y="503" width="3" height="2" fill="#00ff00"/>
<rect x="1220" y="499" width="1" height="15" fill="#00ff00"/>
<rect x="1219" y="505" width="3" height="8" fill="#00ff00"/>
<rect x="1224" y="508" width="1" height="17" fill="#00ff00"/>
<rect x="1223" y="509" width="3" height="12" fill="#00ff00"/>
<rect x="1228" y="514" width="1" height="12" fill="#ff0000"/>
<rect x="1227" y="519" width="3" height="2" fill="#ff0000"/>
<rect x="1232" y="501" width="1" height="20" fill="#ff0000"/>
<rect x="1231" y="515" width="3" height="5" fill="#ff0000"/>
<rect x="1236" y="513" width="1" height="8" fill="#00ff00"/>
<rect x="1235" y="515" width="3" height="3" fill="#00ff00"/>
<rect x="1240" y="519" width="1" height="13" fill="#00ff00"/>
<rect x="1239" y="520" width="3" height="10" fill="#00ff00"/>
<rect x="1244" y="516" width="1" height="22" fill="#ff0000"/>
<rect x="1243" y="521" width="3" height="9" fill="#ff0000"/>
<rect x="1248" y="505" width="1" height="18" fill="#ff0000"/>
<rect x="1247" y="509" width="3" height="13" fill="#ff0000"/>
<rect x="1252" y="509" width="1" height="16" fill="#00ff00"/>
<rect x="1251" y="509" width="3" height="3" fill="#00ff00"/>
<rect x="1256" y="510" width="1" height="14" fill="#00ff00"/>
<rect x="1255" y="511" width="3" height="4" fill="#00ff00"/>
<g shape-rendering="crispEdges">
<polyline points="4.5,386.4 9.0,387.1 15.0,389.4 19.6,391.2 24.0,391.2 30.0,387.1 34.6,382.6 38.4,374.3 43.7,363.8 48.2,358.5 52.7,355.5 57.2,354.5 60.2,356.3 64.8,354.5 68.5,351.7 72.3,345.0 74.5,333.7 76.8,322.4 80.3,308.5 86.3,276.4 92.4,242.2 98.4,220.2 102.4,198.0 106.4,176.5 112.4,136.4 117.5,108.3 120.5,102.7 124.5,103.9 128.5,110.3 133.5,128.4 138.6,154.5 143.6,178.6 148.2,194.6 152.6,186.6 158.6,178.6 163.7,174.9 168.7,176.5 173.7,186.6 176.7,191.0 180.7,200.1 184.7,212.1 188.8,217.1 192.8,217.1 196.8,221.2 200.8,214.1 206.8,206.1 212.9,199.1 216.9,194.1 220.9,189.6 228.9,189.0 232.9,186.0 238.0,190.6 241.0,196.6 245.0,199.1 249.0,205.1 253.0,211.1 261.0,211.1 267.1,205.1 271.1,194.1 273.1,191.0 277.1,198.1 281.1,208.1 285.1,210.1 289.2,212.1 292.2,218.2 296.2,210.1 301.2,202.1 305.2,196.1 310.2,193.1 313.3,195.1 317.3,204.1 321.3,213.1 325.3,219.2 330.1,222.6 336.1,219.2 340.1,221.2 346.1,236.3 352.1,250.3 358.2,262.4 364.2,282.4 370.2,302.5 373.2,312.0 376.2,326.1 380.3,336.1 385.3,342.6 390.3,344.6 395.3,343.2 400.3,332.1 406.4,318.1 413.4,307.6 424.4,307.6 432.5,309.0 440.5,311.6 448.5,302.5 454.6,292.5 458.6,290.1 462.6,292.5 468.6,298.5 474.6,307.6 480.7,313.0 488.7,313.0 496.7,310.6 506.8,308.6 512.8,310.6 518.8,313.6 524.8,312.6 530.9,318.3 536.9,328.3 542.9,341.2 548.9,348.2 557.0,353.2 565.0,352.6 573.0,354.6 579.1,350.2 583.1,356.2 588.1,365.3 593.1,365.9 601.1,367.3 607.2,365.3 611.2,373.3 617.2,383.3 623.2,389.4 629.3,394.4 637.3,399.4 642.1,402.4 644.0,401.3 654.1,400.3 660.1,404.7 666.1,411.3 672.1,420.4 678.2,427.4 682.2,429.4 690.2,428.4 696.2,426.0 702.3,419.4 708.3,414.3 713.3,407.3 718.3,404.3 724.4,403.3 732.4,402.7 740.4,401.3 745.4,398.3 748.4,389.2 754.5,376.2 760.5,365.1 766.5,357.1 772.5,353.7 776.6,356.1 782.6,364.1 788.6,370.2 794.6,375.8 800.7,378.2 804.7,382.6 808.7,392.2 812.7,400.3 816.7,407.3 820.7,411.9 825.8,412.7 829.8,409.3 833.8,405.3 837.8,403.3 842.8,404.3 846.8,407.3 850.9,410.3 854.9,412.3 858.9,411.9 864.9,409.3 869.9,406.3 874.0,396.3 878.0,386.2 883.0,377.2 888.0,371.2 892.0,380.2 896.0,390.2 901.1,407.3 906.1,422.4 911.1,434.4 916.1,441.4 921.1,440.4 926.2,433.4 931.2,424.4 936.2,419.4 941.2,418.4 946.2,422.4 951.3,426.4 957.3,426.8 962.1,426.4 964.0,428.1 972.1,435.1 980.1,444.2 988.1,449.8 996.2,459.2 1002.2,473.3 1008.2,485.3 1014.2,493.4 1020.3,497.4 1028.3,498.8 1036.3,502.0 1044.4,504.4 1052.4,503.4 1056.4,498.4 1062.4,486.3 1067.4,479.3 1072.5,477.9 1078.5,479.3 1084.5,487.3 1090.5,495.4 1096.6,503.4 1102.6,509.4 1110.6,512.0 1116.6,512.9 1122.7,508.4 1130.7,508.4 1136.7,510.4 1144.8,510.0 1150.8,511.4 1156.8,517.5 1162.8,519.5 1168.8,518.9 1172.9,515.5 1176.3,507.2 1180.3,503.7 1185.3,502.0 1188.4,499.6 1191.4,494.6 1194.4,491.3 1197.4,490.6 1200.4,491.6 1203.4,489.1 1205.9,488.3 1209.4,489.6 1213.5,493.1 1217.5,496.6 1220.5,499.6 1223.5,505.7 1227.5,510.2 1231.5,513.7 1235.5,516.2 1240.6,520.2 1244.6,520.2 1247.6,519.2 1250.6,517.4 1255.6,517.4" fill="none" stroke="#ffa500" stroke-width="1" />
<polyline points="4.5,380.4 9.0,381.1 15.0,382.2 19.6,384.6 24.0,385.6 30.0,385.2 36.0,385.2 40.7,382.6 46.7,377.7 52.7,375.8 60.2,371.3 66.3,366.8 72.3,360.0 76.8,350.2 81.3,339.0 88.4,320.6 98.4,294.5 104.4,268.4 109.4,244.3 116.5,212.1 120.5,200.0 124.5,180.6 128.5,167.5 133.5,159.5 138.6,154.9 144.6,151.4 150.6,146.4 153.6,144.8 156.6,146.4 160.6,152.4 166.7,159.5 172.7,170.5 178.7,184.6 183.7,192.6 188.8,195.1 200.8,198.1 208.8,202.1 216.9,204.1 226.9,203.1 234.9,200.1 241.0,197.7 249.0,197.7 257.0,198.1 265.1,197.7 273.1,199.1 281.1,203.1 289.2,206.1 297.2,205.1 305.2,202.1 311.2,200.1 317.3,204.1 325.3,209.1 336.1,210.2 344.1,216.2 356.2,229.2 366.2,252.3 374.2,266.4 380.3,279.4 386.3,294.5 392.3,308.6 400.3,316.6 408.4,322.6 414.4,327.0 424.4,323.6 436.5,319.6 444.5,310.6 452.5,303.5 466.6,303.5 478.7,303.5 486.7,304.9 496.7,304.1 506.8,307.6 516.8,312.6 526.8,311.6 536.9,317.5 546.9,324.1 557.0,333.1 565.0,339.2 575.0,345.2 581.1,350.2 589.1,357.2 599.1,357.8 607.2,362.2 617.2,367.3 625.2,373.3 633.3,381.3 637.3,384.3 642.1,385.3 652.1,391.2 660.1,399.3 668.1,405.3 676.2,411.3 684.2,414.3 692.2,417.3 700.3,420.0 708.3,421.4 716.3,420.0 724.4,416.7 732.4,412.3 740.4,407.9 746.4,404.3 752.5,397.3 760.5,388.2 768.5,380.6 776.6,375.2 784.6,371.2 792.6,367.1 798.7,366.1 804.7,368.2 812.7,375.2 820.7,384.2 828.8,390.2 836.8,397.3 844.8,402.3 852.9,407.3 860.9,410.3 868.9,407.3 877.0,399.3 885.0,395.9 891.0,394.7 897.0,397.3 905.1,401.3 913.1,406.3 920.2,410.5 926.3,411.0 930.8,415.8 935.3,420.3 939.8,424.5 944.3,427.8 956.4,428.1 965.4,427.5 974.5,427.5 979.0,428.6 985.0,434.6 992.5,439.1 1001.6,448.9 1010.6,459.5 1016.2,466.3 1024.3,475.9 1032.3,483.3 1040.3,490.8 1046.4,496.4 1052.4,498.4 1060.4,496.0 1068.4,494.0 1078.5,491.4 1088.5,491.4 1100.6,492.4 1108.6,495.4 1116.6,500.4 1124.7,503.4 1132.7,508.4 1140.7,510.0 1150.8,510.0 1158.8,512.9 1168.8,512.4 1176.9,511.4 1184.9,510.0 1192.9,506.4 1201.0,504.4 1209.0,500.4 1217.0,497.4 1225.1,498.0 1233.1,500.0 1241.1,503.4 1249.2,508.0 1256.2,510.8" fill="none" stroke="#ff0000" stroke-width="1" />
<polyline points="3.8,399.6 9.0,397.2 15.0,395.1 24.0,392.4 30.0,389.4 37.7,386.4 45.2,381.9 52.7,379.6 60.2,376.6 72.3,372.5 78.3,366.8 87.3,357.0 96.4,344.2 99.4,340.0 102.4,332.2 108.4,317.9 112.4,308.5 120.5,290.8 126.5,276.4 138.6,254.3 152.6,230.2 166.7,208.1 176.7,198.0 182.7,191.6 190.8,184.2 200.8,179.0 206.8,176.5 214.9,176.1 220.9,175.5 226.9,179.6 234.9,185.0 243.0,192.6 249.0,197.6 261.0,197.6 267.1,197.7 273.1,199.1 281.1,202.1 289.2,204.5 297.2,203.7 305.2,201.1 313.3,200.1 319.3,201.1 325.3,203.1 336.1,204.5 344.1,210.2 356.2,217.2 372.2,230.2 384.3,245.3 392.3,257.3 404.4,266.0 416.4,276.4 428.4,288.5 440.5,296.1 452.5,304.5 464.6,310.2 476.6,314.2 488.7,314.2 500.7,310.6 508.8,307.6 526.8,307.6 536.9,310.2 542.9,313.1 557.0,317.7 569.0,323.7 579.0,330.1 591.1,335.7 601.1,339.2 611.2,344.6 621.2,351.8 631.3,360.2 642.1,367.9 648.0,372.2 660.1,379.2 672.1,385.8 684.2,393.3 696.2,399.9 708.3,404.3 720.3,407.9 730.4,409.9 740.4,410.3 752.5,407.3 764.5,402.7 776.6,398.3 788.6,393.3 796.6,389.2 804.7,387.2 816.7,386.6 828.8,386.2 840.8,386.6 852.9,388.2 864.9,389.2 877.0,390.2 889.0,393.3 897.0,397.3 905.1,401.3 913.1,405.9 921.1,409.9 929.2,409.3 937.2,409.9 945.2,411.3 953.3,413.3 962.1,414.7 972.1,417.1 982.1,419.7 990.1,424.1 996.2,429.1 1002.2,436.5 1008.2,441.8 1016.2,447.2 1028.3,453.2 1040.3,459.2 1048.4,465.3 1056.4,469.9 1064.4,471.9 1072.5,475.9 1080.5,479.9 1088.5,485.3 1096.6,489.4 1106.6,493.4 1114.6,498.4 1126.7,498.4 1134.7,500.0 1148.8,500.0 1154.8,502.4 1164.8,504.0 1176.9,504.4 1184.9,506.4 1197.0,507.4 1207.0,506.0 1217.0,505.4 1227.1,506.0 1237.1,506.4 1245.2,508.4 1251.2,507.4 1255.6,507.4" fill="none" stroke="#0000cd" stroke-width="1" />
</g>
<rect x="4" y="346" width="1576" height="2" fill="#ff0000"/>
<rect x="4" y="392" width="1576" height="2" fill="#ff0000"/>
<rect x="4" y="435" width="1576" height="2" fill="#ff0000"/>
<rect x="4" y="477" width="1576" height="2" fill="#00ff00"/>
<rect x="4" y="533" width="1576" height="2" fill="#0000ff"/>
</g>
<rect x="3" y="390" width="6" height="6" fill="#ff0000"/>
<rect x="5" y="392" width="2" height="2" fill="#ffffff"/>
<rect x="1574" y="390" width="6" height="6" fill="#ff0000"/>
<rect x="1576" y="392" width="2" height="2" fill="#ffffff"/>
<rect x="3" y="433" width="6" height="6" fill="#ff0000"/>
<rect x="5" y="435" width="2" height="2" fill="#ffffff"/>
<rect x="1574" y="433" width="6" height="6" fill="#ff0000"/>
<rect x="1576" y="435" width="2" height="2" fill="#ffffff"/>
<rect x="3" y="475" width="6" height="6" fill="#00ff00"/>
<rect x="5" y="477" width="2" height="2" fill="#ffffff"/>
<rect x="1574" y="475" width="6" height="6" fill="#00ff00"/>
<rect x="1576" y="477" width="2" height="2" fill="#ffffff"/>
<rect x="3" y="531" width="6" height="6" fill="#0000ff"/>
<rect x="5" y="533" width="2" height="2" fill="#ffffff"/>
<rect x="1574" y="531" width="6" height="6" fill="#0000ff"/>
<rect x="1576" y="533" width="2" height="2" fill="#ffffff"/>
<line x1="5" y1="587.5" x2="1580" y2="587.5" stroke="#c0c0c0" stroke-width="1" stroke-dasharray="3 3"/>
<line x1="5" y1="624.5" x2="1580" y2="624.5" stroke="#c0c0c0" stroke-width="1" stroke-dasharray="3 3"/>
<g shape-rendering="crispEdges">
<polyline points="4.0,597.0 8.0,602.0 14.0,604.0 20.0,609.0 25.0,596.6 32.0,591.4 40.0,580.6 47.0,586.0 52.4,597.0 57.0,591.4 60.0,591.4 65.0,588.0 69.0,588.0 76.0,573.0 80.0,576.4 88.0,570.6 92.4,577.4 96.0,576.4 104.0,568.6 112.4,579.4 119.6,576.4 124.0,581.0 128.0,588.0 132.0,602.0 136.0,601.4 140.0,606.0 144.4,599.4 148.0,600.0 152.4,597.6 157.0,602.0 164.0,600.0 168.0,601.4 172.4,608.0 176.0,606.0 184.0,608.0 192.0,608.6 196.0,611.0 200.0,602.0 204.0,600.0 209.0,605.4 214.0,604.6 220.0,598.6 224.0,601.0 228.0,606.0 234.0,603.4 240.0,606.0 248.0,611.0 252.0,612.0 256.4,602.6 260.0,604.6 264.0,603.4 269.0,606.0 272.0,600.6 277.0,609.4 281.0,611.0 285.0,610.0 288.0,605.4 292.0,606.0 297.0,602.6 308.0,602.0 312.0,609.0 316.0,614.6 320.0,612.0 324.0,609.4 329.0,605.0 333.0,607.4 337.0,609.0 340.0,615.0 344.0,617.0 348.0,618.6 353.0,615.0 357.0,616.6 360.0,622.6 364.0,626.0 368.0,627.4 372.0,625.0 377.0,628.6 380.0,627.4 384.0,628.6 389.0,624.0 392.0,625.0 397.0,613.0 404.0,609.4 408.0,609.4 413.0,612.6 416.0,612.6 424.0,609.4 428.0,609.4 433.0,613.4 437.0,615.4 440.0,609.4 445.0,602.6 448.0,601.4 452.4,604.6 456.0,602.6 460.0,607.4 465.0,610.6 469.0,609.4 473.0,611.4 480.0,612.0 484.4,608.6 488.4,612.6 494.0,608.0 497.0,607.4 501.0,607.4 504.4,609.4 508.0,605.4 512.4,613.4 517.0,611.0 521.0,607.4 525.0,607.4 529.0,611.0 532.4,618.0 537.0,620.6 540.4,623.4 544.4,616.6 548.0,616.6 553.0,619.4 556.0,620.6 560.0,620.6 564.4,611.4 568.0,616.0 571.6,616.6 576.0,613.4 580.0,616.0 584.0,623.4 588.0,620.6 592.4,609.4 599.0,611.0 605.0,617.0 612.4,621.4 617.0,617.0 620.0,617.0 625.0,620.6 632.0,622.6 636.0,621.4 640.0,618.0 644.0,619.4 649.0,615.0 652.0,617.0 657.0,621.4 661.0,623.4 666.0,623.4 673.0,628.6 677.0,627.4 680.0,625.0 684.4,613.4 688.0,616.0 692.4,620.6 696.4,615.0 700.0,604.6 704.4,607.4 708.0,607.4 712.4,605.4 716.0,604.6 720.4,606.6 724.4,603.4 728.4,608.0 732.4,603.4 736.4,606.6 740.0,604.6 744.4,595.4 749.0,592.6 752.4,589.4 756.0,590.6 760.4,587.4 764.0,589.0 768.4,592.6 772.4,589.4 776.4,600.6 780.4,604.6 785.0,601.4 789.0,603.4 793.0,606.6 797.0,606.6 800.4,605.0 804.4,612.0 808.4,619.4 812.4,618.6 816.0,619.4 820.0,616.6 824.4,615.0 828.4,604.6 832.4,609.4 837.0,610.6 841.0,612.6 845.0,615.4 849.0,614.6 852.4,614.6 856.0,612.6 860.4,612.0 864.4,603.4 868.4,609.4 872.0,595.4 876.0,593.4 880.0,596.0 884.0,597.4 888.4,601.4 892.0,614.6 896.4,612.6 900.0,618.6 908.0,618.6 912.4,621.4 916.0,617.0 928.4,604.0 932.0,606.0 936.4,611.4 940.0,609.4 944.4,611.0 948.4,609.4 952.4,611.4 956.4,608.6 960.0,608.6 964.0,613.0 968.4,615.4 972.0,614.6 977.0,617.4 980.0,616.6 985.0,618.6 991.0,618.6 994.0,621.0 997.0,625.0 1000.0,628.0 1004.4,629.4 1008.4,625.4 1012.4,626.6 1016.4,624.6 1020.4,629.4 1024.4,621.4 1032.0,621.4 1036.4,624.6 1040.4,620.6 1045.0,623.4 1048.4,616.0 1052.4,614.0 1056.4,605.4 1060.4,600.0 1064.4,606.0 1069.0,608.6 1072.4,608.6 1076.4,606.0 1080.4,611.0 1084.4,615.0 1089.0,616.0 1092.4,618.0 1096.4,615.4 1100.0,615.4 1104.4,618.6 1108.4,615.4 1112.4,618.0 1116.4,615.4 1120.4,605.4 1124.4,608.0 1128.4,612.0 1132.4,617.0 1136.4,607.4 1140.4,609.4 1145.0,606.0 1148.4,608.6 1152.4,616.6 1156.4,616.6 1160.4,608.6 1164.4,607.0 1168.4,605.4 1172.4,609.4 1176.4,603.4 1180.0,601.4 1184.4,604.6 1188.4,601.4 1192.0,599.4 1196.4,599.4 1200.4,603.4 1204.4,599.4 1208.4,605.4 1212.4,606.6 1216.4,607.4 1220.4,610.6 1224.4,613.4 1228.4,613.4 1232.0,611.4 1236.4,611.4 1240.0,616.6 1244.0,612.6 1248.4,607.4 1252.4,607.4 1255.6,608.6" fill="none" stroke="#1e90ff" stroke-width="1" />
</g>
<rect x="8" y="713" width="1" height="5" fill="#c0c0c0"/>
<rect x="12" y="714" width="1" height="4" fill="#c0c0c0"/>
<rect x="16" y="714" width="1" height="4" fill="#c0c0c0"/>
<rect x="20" y="715" width="1" height="3" fill="#c0c0c0"/>
<rect x="24" y="715" width="1" height="3" fill="#c0c0c0"/>
<rect x="28" y="714" width="1" height="4" fill="#c0c0c0"/>
<rect x="32" y="714" width="1" height="4" fill="#c0c0c0"/>
<rect x="36" y="713" width="1" height="5" fill="#c0c0c0"/>
<rect x="40" y="711" width="1" height="7" fill="#c0c0c0"/>
<rect x="44" y="710" width="1" height="8" fill="#c0c0c0"/>
<rect x="48" y="710" width="1" height="8" fill="#c0c0c0"/>
<rect x="52" y="710" width="1" height="8" fill="#c0c0c0"/>
<rect x="56" y="710" width="1" height="8" fill="#c0c0c0"/>
<rect x="60" y="709" width="1" height="9" fill="#c0c0c0"/>
<rect x="64" y="709" width="1" height="9" fill="#c0c0c0"/>
<rect x="68" y="709" width="1" height="9" fill="#c0c0c0"/>
<rect x="72" y="707" width="1" height="11" fill="#c0c0c0"/>
<rect x="76" y="702" width="1" height="16" fill="#c0c0c0"/>
<rect x="80" y="699" width="1" height="19" fill="#c0c0c0"/>
<rect x="84" y="695" width="1" height="23" fill="#c0c0c0"/>
<rect x="88" y="690" width="1" height="28" fill="#c0c0c0"/>
<rect x="92" y="688" width="1" height="30" fill="#c0c0c0"/>
<rect x="96" y="686" width="1" height="32" fill="#c0c0c0"/>
<rect x="100" y="681" width="1" height="37" fill="#c0c0c0"/>
<rect x="104" y="673" width="1" height="45" fill="#c0c0c0"/>
<rect x="108" y="668" width="1" height="50" fill="#c0c0c0"/>
<rect x="112" y="666" width="1" height="52" fill="#c0c0c0"/>
<rect x="116" y="665" width="1" height="53" fill="#c0c0c0"/>
<rect x="120" y="664" width="1" height="54" fill="#c0c0c0"/>
<rect x="124" y="663" width="1" height="55" fill="#c0c0c0"/>
<rect x="128" y="666" width="1" height="52" fill="#c0c0c0"/>
<rect x="132" y="671" width="1" height="47" fill="#c0c0c0"/>
<rect x="136" y="677" width="1" height="41" fill="#c0c0c0"/>
<rect x="140" y="683" width="1" height="35" fill="#c0c0c0"/>
<rect x="144" y="685" width="1" height="33" fill="#c0c0c0"/>
<rect x="148" y="688" width="1" height="30" fill="#c0c0c0"/>
<rect x="152" y="689" width="1" height="29" fill="#c0c0c0"/>
<rect x="156" y="692" width="1" height="26" fill="#c0c0c0"/>
<rect x="160" y="694" width="1" height="24" fill="#c0c0c0"/>
<rect x="164" y="696" width="1" height="22" fill="#c0c0c0"/>
<rect x="168" y="698" width="1" height="20" fill="#c0c0c0"/>
<rect x="172" y="702" width="1" height="16" fill="#c0c0c0"/>
<rect x="176" y="705" width="1" height="13" fill="#c0c0c0"/>
<rect x="180" y="708" width="1" height="10" fill="#c0c0c0"/>
<rect x="184" y="710" width="1" height="8" fill="#c0c0c0"/>
<rect x="188" y="712" width="1" height="6" fill="#c0c0c0"/>
<rect x="192" y="714" width="1" height="4" fill="#c0c0c0"/>
<rect x="196" y="716" width="1" height="2" fill="#c0c0c0"/>
<rect x="200" y="715" width="1" height="3" fill="#c0c0c0"/>
<rect x="204" y="714" width="1" height="4" fill="#c0c0c0"/>
<rect x="208" y="713" width="1" height="5" fill="#c0c0c0"/>
<rect x="212" y="713" width="1" height="5" fill="#c0c0c0"/>
<rect x="216" y="713" width="1" height="5" fill="#c0c0c0"/>
<rect x="220" y="713" width="1" height="5" fill="#c0c0c0"/>
<rect x="224" y="712" width="1" height="6" fill="#c0c0c0"/>
<rect x="228" y="713" width="1" height="5" fill="#c0c0c0"/>
<rect x="232" y="713" width="1" height="5" fill="#c0c0c0"/>
<rect x="236" y="713" width="1" height="5" fill="#c0c0c0"/>
<rect x="240" y="713" width="1" height="5" fill="#c0c0c0"/>
<rect x="244" y="715" width="1" height="3" fill="#c0c0c0"/>
<rect x="248" y="717" width="1" height="1" fill="#c0c0c0"/>
<rect x="252" y="717" width="1" height="3" fill="#c0c0c0"/>
<rect x="256" y="717" width="1" height="2" fill="#c0c0c0"/>
<rect x="260" y="717" width="1" height="1" fill="#c0c0c0"/>
<rect x="264" y="717" width="1" height="1" fill="#c0c0c0"/>
<rect x="268" y="717" width="1" height="1" fill="#c0c0c0"/>
<rect x="272" y="717" width="1" height="1" fill="#c0c0c0"/>
<rect x="276" y="717" width="1" height="1" fill="#c0c0c0"/>
<rect x="280" y="717" width="1" height="1" fill="#c0c0c0"/>
<rect x="284" y="717" width="1" height="3" fill="#c0c0c0"/>
<rect x="288" y="717" width="1" height="2" fill="#c0c0c0"/>
<rect x="292" y="717" width="1" height="2" fill="#c0c0c0"/>
<rect x="296" y="717" width="1" height="2" fill="#c0c0c0"/>
<rect x="300" y="717" width="1" height="2" fill="#c0c0c0"/>
<rect x="304" y="717" width="1" height="2" fill="#c0c0c0"/>
<rect x="308" y="716" width="1" height="2" fill="#c0c0c0"/>
<rect x="312" y="717" width="1" height="1" fill="#c0c0c0"/>
<rect x="316" y="717" width="1" height="1" fill="#c0c0c0"/>
<rect x="320" y="717" width="1" height="3" fill="#c0c0c0"/>
<rect x="324" y="717" width="1" height="4" fill="#c0c0c0"/>
<rect x="328" y="717" width="1" height="3" fill="#c0c0c0"/>
<rect x="332" y="717" width="1" height="3" fill="#c0c0c0"/>
<rect x="336" y="717" width="1" height="3" fill="#c0c0c0"/>
<rect x="340" y="717" width="1" height="6" fill="#c0c0c0"/>
<rect x="344" y="717" width="1" height="9" fill="#c0c0c0"/>
<rect x="348" y="717" width="1" height="11" fill="#c0c0c0"/>
<rect x="352" y="717" width="1" height="11" fill="#c0c0c0"/>
<rect x="356" y="717" width="1" height="12" fill="#c0c0c0"/>
<rect x="360" y="717" width="1" height="16" fill="#c0c0c0"/>
<rect x="364" y="717" width="1" height="19" fill="#c0c0c0"/>
<rect x="368" y="717" width="1" height="22" fill="#c0c0c0"/>
<rect x="372" y="717" width="1" height="24" fill="#c0c0c0"/>
<rect x="376" y="717" width="1" height="26" fill="#c0c0c0"/>
<rect x="380" y="717" width="1" height="28" fill="#c0c0c0"/>
<rect x="384" y="717" width="1" height="30" fill="#c0c0c0"/>
<rect x="388" y="717" width="1" height="30" fill="#c0c0c0"/>
<rect x="392" y="717" width="1" height="30" fill="#c0c0c0"/>
<rect x="396" y="717" width="1" height="28" fill="#c0c0c0"/>
<rect x="400" y="717" width="1" height="25" fill="#c0c0c0"/>
<rect x="404" y="717" width="1" height="22" fill="#c0c0c0"/>
<rect x="408" y="717" width="1" height="20" fill="#c0c0c0"/>
<rect x="412" y="717" width="1" height="18" fill="#c0c0c0"/>
<rect x="416" y="717" width="1" height="17" fill="#c0c0c0"/>
<rect x="420" y="717" width="1" height="15" fill="#c0c0c0"/>
<rect x="424" y="717" width="1" height="14" fill="#c0c0c0"/>
<rect x="428" y="717" width="1" height="13" fill="#c0c0c0"/>
<rect x="432" y="717" width="1" height="12" fill="#c0c0c0"/>
<rect x="436" y="717" width="1" height="12" fill="#c0c0c0"/>
<rect x="440" y="717" width="1" height="11" fill="#c0c0c0"/>
<rect x="444" y="717" width="1" height="9" fill="#c0c0c0"/>
<rect x="448" y="717" width="1" height="7" fill="#c0c0c0"/>
<rect x="452" y="717" width="1" height="5" fill="#c0c0c0"/>
<rect x="456" y="717" width="1" height="5" fill="#c0c0c0"/>
<rect x="460" y="717" width="1" height="4" fill="#c0c0c0"/>
<rect x="464" y="717" width="1" height="4" fill="#c0c0c0"/>
<rect x="468" y="717" width="1" height="5" fill="#c0c0c0"/>
<rect x="472" y="717" width="1" height="5" fill="#c0c0c0"/>
<rect x="476" y="717" width="1" height="5" fill="#c0c0c0"/>
<rect x="480" y="717" width="1" height="5" fill="#c0c0c0"/>
<rect x="484" y="717" width="1" height="5" fill="#c0c0c0"/>
<rect x="488" y="717" width="1" height="6" fill="#c0c0c0"/>
<rect x="492" y="717" width="1" height="6" fill="#c0c0c0"/>
<rect x="496" y="717" width="1" height="6" fill="#c0c0c0"/>
<rect x="500" y="717" width="1" height="6" fill="#c0c0c0"/>
<rect x="504" y="717" width="1" height="6" fill="#c0c0c0"/>
<rect x="508" y="717" width="1" height="5" fill="#c0c0c0"/>
<rect x="512" y="717" width="1" height="5" fill="#c0c0c0"/>
<rect x="516" y="717" width="1" height="5" fill="#c0c0c0"/>
<rect x="520" y="717" width="1" height="5" fill="#c0c0c0"/>
<rect x="524" y="717" width="1" height="5" fill="#c0c0c0"/>
<rect x="528" y="717" width="1" height="6" fill="#c0c0c0"/>
<rect x="532" y="717" width="1" height="6" fill="#c0c0c0"/>
<rect x="536" y="717" width="1" height="6" fill="#c0c0c0"/>
<rect x="540" y="717" width="1" height="10" fill="#c0c0c0"/>
<rect x="544" y="717" width="1" height="9" fill="#c0c0c0"/>
<rect x="548" y="717" width="1" height="10" fill="#c0c0c0"/>
<rect x="552" y="717" width="1" height="11" fill="#c0c0c0"/>
<rect x="556" y="717" width="1" height="12" fill="#c0c0c0"/>
<rect x="560" y="717" width="1" height="12" fill="#c0c0c0"/>
<rect x="564" y="717" width="1" height="11" fill="#c0c0c0"/>
<rect x="568" y="717" width="1" height="12" fill="#c0c0c0"/>
<rect x="572" y="717" width="1" height="12" fill="#c0c0c0"/>
<rect x="576" y="717" width="1" height="11" fill="#c0c0c0"/>
<rect x="580" y="717" width="1" height="11" fill="#c0c0c0"/>
<rect x="584" y="717" width="1" height="12" fill="#c0c0c0"/>
<rect x="588" y="717" width="1" height="13" fill="#c0c0c0"/>
<rect x="592" y="717" width="1" height="13" fill="#c0c0c0"/>
<rect x="596" y="717" width="1" height="11" fill="#c0c0c0"/>
<rect x="600" y="717" width="1" height="11" fill="#c0c0c0"/>
<rect x="604" y="717" width="1" height="11" fill="#c0c0c0"/>
<rect x="608" y="717" width="1" height="12" fill="#c0c0c0"/>
<rect x="612" y="717" width="1" height="13" fill="#c0c0c0"/>
<rect x="616" y="717" width="1" height="13" fill="#c0c0c0"/>
<rect x="620" y="717" width="1" height="13" fill="#c0c0c0"/>
<rect x="624" y="717" width="1" height="13" fill="#c0c0c0"/>
<rect x="628" y="717" width="1" height="14" fill="#c0c0c0"/>
<rect x="632" y="717" width="1" height="15" fill="#c0c0c0"/>
<rect x="636" y="717" width="1" height="15" fill="#c0c0c0"/>
<rect x="640" y="717" width="1" height="15" fill="#c0c0c0"/>
<rect x="644" y="717" width="1" height="15" fill="#c0c0c0"/>
<rect x="648" y="717" width="1" height="15" fill="#c0c0c0"/>
<rect x="652" y="717" width="1" height="15" fill="#c0c0c0"/>
<rect x="656" y="717" width="1" height="15" fill="#c0c0c0"/>
<rect x="660" y="717" width="1" height="15" fill="#c0c0c0"/>
<rect x="664" y="717" width="1" height="15" fill="#c0c0c0"/>
<rect x="668" y="717" width="1" height="15" fill="#c0c0c0"/>
<rect x="672" y="717" width="1" height="15" fill="#c0c0c0"/>
<rect x="676" y="717" width="1" height="15" fill="#c0c0c0"/>
<rect x="680" y="717" width="1" height="15" fill="#c0c0c0"/>
<rect x="684" y="717" width="1" height="15" fill="#c0c0c0"/>
<rect x="688" y="717" width="1" height="14" fill="#c0c0c0"/>
<rect x="692" y="717" width="1" height="13" fill="#c0c0c0"/>
<rect x="696" y="717" width="1" height="13" fill="#c0c0c0"/>
<rect x="700" y="717" width="1" height="10" fill="#c0c0c0"/>
<rect x="704" y="717" width="1" height="9" fill="#c0c0c0"/>
<rect x="708" y="717" width="1" height="8" fill="#c0c0c0"/>
<rect x="712" y="717" width="1" height="7" fill="#c0c0c0"/>
<rect x="716" y="717" width="1" height="6" fill="#c0c0c0"/>
<rect x="720" y="717" width="1" height="5" fill="#c0c0c0"/>
<rect x="724" y="717" width="1" height="5" fill="#c0c0c0"/>
<rect x="728" y="717" width="1" height="4" fill="#c0c0c0"/>
<rect x="732" y="717" width="1" height="3" fill="#c0c0c0"/>
<rect x="736" y="717" width="1" height="3" fill="#c0c0c0"/>
<rect x="740" y="717" width="1" height="3" fill="#c0c0c0"/>
<rect x="744" y="717" width="1" height="3" fill="#c0c0c0"/>
<rect x="748" y="715" width="1" height="3" fill="#c0c0c0"/>
<rect x="752" y="713" width="1" height="5" fill="#c0c0c0"/>
<rect x="756" y="712" width="1" height="6" fill="#c0c0c0"/>
<rect x="760" y="710" width="1" height="8" fill="#c0c0c0"/>
<rect x="764" y="709" width="1" height="9" fill="#c0c0c0"/>
<rect x="768" y="709" width="1" height="9" fill="#c0c0c0"/>
<rect x="772" y="708" width="1" height="10" fill="#c0c0c0"/>
<rect x="776" y="709" width="1" height="9" fill="#c0c0c0"/>
<rect x="780" y="709" width="1" height="9" fill="#c0c0c0"/>
<rect x="784" y="710" width="1" height="8" fill="#c0c0c0"/>
<rect x="788" y="711" width="1" height="7" fill="#c0c0c0"/>
<rect x="792" y="712" width="1" height="6" fill="#c0c0c0"/>
<rect x="796" y="713" width="1" height="5" fill="#c0c0c0"/>
<rect x="800" y="714" width="1" height="4" fill="#c0c0c0"/>
<rect x="804" y="716" width="1" height="2" fill="#c0c0c0"/>
<rect x="808" y="717" width="1" height="1" fill="#c0c0c0"/>
<rect x="812" y="717" width="1" height="3" fill="#c0c0c0"/>
<rect x="816" y="717" width="1" height="5" fill="#c0c0c0"/>
<rect x="820" y="717" width="1" height="6" fill="#c0c0c0"/>
<rect x="824" y="717" width="1" height="6" fill="#c0c0c0"/>
<rect x="828" y="717" width="1" height="5" fill="#c0c0c0"/>
<rect x="832" y="717" width="1" height="5" fill="#c0c0c0"/>
<rect x="836" y="717" width="1" height="5" fill="#c0c0c0"/>
<rect x="840" y="717" width="1" height="5" fill="#c0c0c0"/>
<rect x="844" y="717" width="1" height="6" fill="#c0c0c0"/>
<rect x="848" y="717" width="1" height="7" fill="#c0c0c0"/>
<rect x="852" y="717" width="1" height="7" fill="#c0c0c0"/>
<rect x="856" y="717" width="1" height="7" fill="#c0c0c0"/>
<rect x="860" y="717" width="1" height="7" fill="#c0c0c0"/>
<rect x="864" y="717" width="1" height="6" fill="#c0c0c0"/>
<rect x="868" y="717" width="1" height="5" fill="#c0c0c0"/>
<rect x="872" y="717" width="1" height="4" fill="#c0c0c0"/>
<rect x="876" y="717" width="1" height="1" fill="#c0c0c0"/>
<rect x="880" y="716" width="1" height="2" fill="#c0c0c0"/>
<rect x="884" y="715" width="1" height="3" fill="#c0c0c0"/>
<rect x="888" y="714" width="1" height="4" fill="#c0c0c0"/>
<rect x="892" y="716" width="1" height="2" fill="#c0c0c0"/>
<rect x="896" y="717" width="1" height="3" fill="#c0c0c0"/>
<rect x="900" y="717" width="1" height="3" fill="#c0c0c0"/>
<rect x="904" y="717" width="1" height="6" fill="#c0c0c0"/>
<rect x="908" y="717" width="1" height="8" fill="#c0c0c0"/>
<rect x="912" y="717" width="1" height="10" fill="#c0c0c0"/>
<rect x="916" y="717" width="1" height="11" fill="#c0c0c0"/>
<rect x="920" y="717" width="1" height="9" fill="#c0c0c0"/>
<rect x="924" y="717" width="1" height="8" fill="#c0c0c0"/>
<rect x="928" y="717" width="1" height="7" fill="#c0c0c0"/>
<rect x="932" y="717" width="1" height="7" fill="#c0c0c0"/>
<rect x="936" y="717" width="1" height="7" fill="#c0c0c0"/>
<rect x="940" y="717" width="1" height="7" fill="#c0c0c0"/>
<rect x="944" y="717" width="1" height="6" fill="#c0c0c0"/>
<rect x="948" y="717" width="1" height="6" fill="#c0c0c0"/>
<rect x="952" y="717" width="1" height="6" fill="#c0c0c0"/>
<rect x="956" y="717" width="1" height="6" fill="#c0c0c0"/>
<rect x="960" y="717" width="1" height="6" fill="#c0c0c0"/>
<rect x="964" y="717" width="1" height="6" fill="#c0c0c0"/>
<rect x="968" y="717" width="1" height="7" fill="#c0c0c0"/>
<rect x="972" y="717" width="1" height="7" fill="#c0c0c0"/>
<rect x="976" y="717" width="1" height="8" fill="#c0c0c0"/>
<rect x="980" y="717" width="1" height="9" fill="#c0c0c0"/>
<rect x="984" y="717" width="1" height="8" fill="#c0c0c0"/>
<rect x="988" y="717" width="1" height="9" fill="#c0c0c0"/>
<rect x="992" y="717" width="1" height="10" fill="#c0c0c0"/>
<rect x="996" y="717" width="1" height="11" fill="#c0c0c0"/>
<rect x="1000" y="717" width="1" height="13" fill="#c0c0c0"/>
<rect x="1004" y="717" width="1" height="15" fill="#c0c0c0"/>
<rect x="1008" y="717" width="1" height="16" fill="#c0c0c0"/>
<rect x="1012" y="717" width="1" height="16" fill="#c0c0c0"/>
<rect x="1016" y="717" width="1" height="16" fill="#c0c0c0"/>
<rect x="1020" y="717" width="1" height="18" fill="#c0c0c0"/>
<rect x="1024" y="717" width="1" height="18" fill="#c0c0c0"/>
<rect x="1028" y="717" width="1" height="18" fill="#c0c0c0"/>
<rect x="1032" y="717" width="1" height="17" fill="#c0c0c0"/>
<rect x="1036" y="717" width="1" height="17" fill="#c0c0c0"/>
<rect x="1040" y="717" width="1" height="17" fill="#c0c0c0"/>
<rect x="1044" y="717" width="1" height="17" fill="#c0c0c0"/>
<rect x="1048" y="717" width="1" height="17" fill="#c0c0c0"/>
<rect x="1052" y="717" width="1" height="15" fill="#c0c0c0"/>
<rect x="1056" y="717" width="1" height="12" fill="#c0c0c0"/>
<rect x="1060" y="717" width="1" height="9" fill="#c0c0c0"/>
<rect x="1064" y="717" width="1" height="8" fill="#c0c0c0"/>
<rect x="1068" y="717" width="1" height="8" fill="#c0c0c0"/>
<rect x="1072" y="717" width="1" height="7" fill="#c0c0c0"/>
<rect x="1076" y="717" width="1" height="6" fill="#c0c0c0"/>
<rect x="1080" y="717" width="1" height="7" fill="#c0c0c0"/>
<rect x="1084" y="717" width="1" height="7" fill="#c0c0c0"/>
<rect x="1088" y="717" width="1" height="9" fill="#c0c0c0"/>
<rect x="1092" y="717" width="1" height="9" fill="#c0c0c0"/>
<rect x="1096" y="717" width="1" height="9" fill="#c0c0c0"/>
<rect x="1100" y="717" width="1" height="9" fill="#c0c0c0"/>
<rect x="1104" y="717" width="1" height="9" fill="#c0c0c0"/>
<rect x="1108" y="717" width="1" height="9" fill="#c0c0c0"/>
<rect x="1112" y="717" width="1" height="10" fill="#c0c0c0"/>
<rect x="1116" y="717" width="1" height="9" fill="#c0c0c0"/>
<rect x="1120" y="717" width="1" height="8" fill="#c0c0c0"/>
<rect x="1124" y="717" width="1" height="8" fill="#c0c0c0"/>
<rect x="1128" y="717" width="1" height="9" fill="#c0c0c0"/>
<rect x="1132" y="717" width="1" height="9" fill="#c0c0c0"/>
<rect x="1136" y="717" width="1" height="8" fill="#c0c0c0"/>
<rect x="1140" y="717" width="1" height="7" fill="#c0c0c0"/>
<rect x="1144" y="717" width="1" height="7" fill="#c0c0c0"/>
<rect x="1148" y="717" width="1" height="7" fill="#c0c0c0"/>
<rect x="1152" y="717" width="1" height="7" fill="#c0c0c0"/>
<rect x="1156" y="717" width="1" height="8" fill="#c0c0c0"/>
<rect x="1160" y="717" width="1" height="8" fill="#c0c0c0"/>
<rect x="1164" y="717" width="1" height="7" fill="#c0c0c0"/>
<rect x="1168" y="717" width="1" height="7" fill="#c0c0c0"/>
<rect x="1172" y="717" width="1" height="6" fill="#c0c0c0"/>
<rect x="1176" y="717" width="1" height="5" fill="#c0c0c0"/>
<rect x="1180" y="717" width="1" height="3" fill="#c0c0c0"/>
<rect x="1184" y="717" width="1" height="2" fill="#c0c0c0"/>
<rect x="1188" y="717" width="1" height="1" fill="#c0c0c0"/>
<rect x="1192" y="717" width="1" height="1" fill="#c0c0c0"/>
<rect x="1196" y="716" width="1" height="2" fill="#c0c0c0"/>
<rect x="1200" y="716" width="1" height="2" fill="#c0c0c0"/>
<rect x="1204" y="715" width="1" height="3" fill="#c0c0c0"/>
<rect x="1208" y="716" width="1" height="2" fill="#c0c0c0"/>
<rect x="1212" y="717" width="1" height="1" fill="#c0c0c0"/>
<rect x="1216" y="717" width="1" height="1" fill="#c0c0c0"/>
<rect x="1220" y="717" width="1" height="1" fill="#c0c0c0"/>
<rect x="1224" y="717" width="1" height="2" fill="#c0c0c0"/>
<rect x="1228" y="717" width="1" height="3" fill="#c0c0c0"/>
<rect x="1232" y="717" width="1" height="3" fill="#c0c0c0"/>
<rect x="1236" y="717" width="1" height="3" fill="#c0c0c0"/>
<rect x="1240" y="717" width="1" height="5" fill="#c0c0c0"/>
<rect x="1244" y="717" width="1" height="5" fill="#c0c0c0"/>
<rect x="1248" y="717" width="1" height="5" fill="#c0c0c0"/>
<rect x="1252" y="717" width="1" height="4" fill="#c0c0c0"/>
<rect x="1256" y="717" width="1" height="4" fill="#c0c0c0"/>
<g shape-rendering="crispEdges">
<polyline points="4.0,709.4 12.0,711.4 24.0,713.0 36.0,713.4 48.0,712.6 60.0,710.6 68.0,709.0 76.0,707.4 84.0,705.0 92.0,700.0 96.0,698.0 104.0,690.0 112.0,682.0 120.0,674.0 128.0,668.6 136.0,667.4 144.0,669.4 152.0,675.0 160.0,683.0 168.0,688.6 176.0,694.0 184.0,699.0 192.0,703.0 200.0,708.0 208.0,711.4 216.0,713.4 224.0,713.4 240.0,713.4 248.0,713.4 252.0,714.6 264.0,715.4 280.0,717.4 296.0,718.0 312.0,718.0 320.0,718.6 332.0,718.6 340.0,720.0 348.0,723.0 360.0,725.0 372.0,730.0 380.0,735.0 388.0,739.4 396.0,742.6 408.0,743.4 416.0,741.0 424.0,736.6 432.0,734.0 440.0,731.0 448.0,728.6 456.0,726.0 464.0,724.0 472.0,722.6 478.0,721.4 500.0,721.4 536.0,721.4 540.0,722.6 548.0,723.0 552.0,724.6 560.0,725.0 568.0,727.4 584.0,727.4 592.0,728.6 608.0,727.4 616.0,728.6 632.0,729.0 640.0,730.6 660.0,730.6 680.0,731.0 692.0,731.4 704.0,730.0 712.0,728.6 720.0,726.0 728.0,724.0 736.0,722.6 744.0,720.0 752.0,718.0 760.0,715.0 768.0,713.0 776.0,710.0 784.0,709.4 796.0,709.4 804.0,710.6 812.0,713.0 820.0,716.0 828.0,718.6 836.0,720.0 844.0,721.4 856.0,722.6 868.0,722.6 880.0,720.6 888.0,718.6 896.0,718.0 908.0,718.0 916.0,720.0 924.0,723.0 932.0,724.6 940.0,725.0 948.0,724.6 956.0,723.4 960.0,723.4 972.0,723.4 984.0,724.0 992.0,724.6 1000.0,725.4 1008.0,727.4 1016.0,729.0 1024.0,731.4 1036.0,733.4 1048.0,733.4 1056.0,732.6 1064.0,730.0 1072.0,728.6 1080.0,726.0 1088.0,724.6 1100.0,724.6 1112.0,724.6 1120.0,725.4 1132.0,725.4 1144.0,724.6 1156.0,723.4 1168.0,723.4 1180.0,722.6 1188.0,721.4 1196.0,719.0 1204.0,718.0 1212.0,716.6 1232.0,716.6 1240.0,718.6 1248.0,719.4 1256.0,720.0" fill="none" stroke="#ff0000" stroke-width="1" stroke-dasharray="3 3"/>
</g>
<rect x="1581" y="57" width="2" height="1" fill="#000" />
<text x="1586.3" y="61" font-size="9.6" fill="#000" stroke="#000" stroke-width="0.2" text-anchor="start"  textLength="33" lengthAdjust="spacingAndGlyphs">1.46550</text>
<rect x="1581" y="90" width="2" height="1" fill="#000" />
<text x="1586.3" y="94" font-size="9.6" fill="#000" stroke="#000" stroke-width="0.2" text-anchor="start"  textLength="33" lengthAdjust="spacingAndGlyphs">1.45150</text>
<rect x="1581" y="123" width="2" height="1" fill="#000" />
<text x="1586.3" y="127" font-size="9.6" fill="#000" stroke="#000" stroke-width="0.2" text-anchor="start"  textLength="33" lengthAdjust="spacingAndGlyphs">1.43710</text>
<rect x="1581" y="156" width="2" height="1" fill="#000" />
<text x="1586.3" y="160" font-size="9.6" fill="#000" stroke="#000" stroke-width="0.2" text-anchor="start"  textLength="33" lengthAdjust="spacingAndGlyphs">1.42310</text>
<rect x="1581" y="189" width="2" height="1" fill="#000" />
<text x="1586.3" y="193" font-size="9.6" fill="#000" stroke="#000" stroke-width="0.2" text-anchor="start"  textLength="33" lengthAdjust="spacingAndGlyphs">1.40910</text>
<rect x="1581" y="222" width="2" height="1" fill="#000" />
<text x="1586.3" y="226" font-size="9.6" fill="#000" stroke="#000" stroke-width="0.2" text-anchor="start"  textLength="33" lengthAdjust="spacingAndGlyphs">1.39510</text>
<rect x="1581" y="255" width="2" height="1" fill="#000" />
<text x="1586.3" y="259" font-size="9.6" fill="#000" stroke="#000" stroke-width="0.2" text-anchor="start"  textLength="33" lengthAdjust="spacingAndGlyphs">1.38110</text>
<rect x="1581" y="288" width="2" height="1" fill="#000" />
<text x="1586.3" y="292" font-size="9.6" fill="#000" stroke="#000" stroke-width="0.2" text-anchor="start"  textLength="33" lengthAdjust="spacingAndGlyphs">1.36710</text>
<rect x="1581" y="321" width="2" height="1" fill="#000" />
<text x="1586.3" y="325" font-size="9.6" fill="#000" stroke="#000" stroke-width="0.2" text-anchor="start"  textLength="33" lengthAdjust="spacingAndGlyphs">1.35310</text>
<rect x="1581" y="354" width="2" height="1" fill="#000" />
<text x="1586.3" y="358" font-size="9.6" fill="#000" stroke="#000" stroke-width="0.2" text-anchor="start"  textLength="33" lengthAdjust="spacingAndGlyphs">1.33870</text>
<rect x="1581" y="387" width="2" height="1" fill="#000" />
<text x="1586.3" y="391" font-size="9.6" fill="#000" stroke="#000" stroke-width="0.2" text-anchor="start"  textLength="33" lengthAdjust="spacingAndGlyphs">1.32470</text>
<rect x="1581" y="420" width="2" height="1" fill="#000" />
<text x="1586.3" y="424" font-size="9.6" fill="#000" stroke="#000" stroke-width="0.2" text-anchor="start"  textLength="33" lengthAdjust="spacingAndGlyphs">1.31070</text>
<rect x="1581" y="453" width="2" height="1" fill="#000" />
<text x="1586.3" y="457" font-size="9.6" fill="#000" stroke="#000" stroke-width="0.2" text-anchor="start"  textLength="33" lengthAdjust="spacingAndGlyphs">1.29670</text>
<rect x="1581" y="486" width="2" height="1" fill="#000" />
<text x="1586.3" y="490" font-size="9.6" fill="#000" stroke="#000" stroke-width="0.2" text-anchor="start"  textLength="33" lengthAdjust="spacingAndGlyphs">1.28270</text>
<rect x="1581" y="519" width="2" height="1" fill="#000" />
<text x="1586.3" y="523" font-size="9.6" fill="#000" stroke="#000" stroke-width="0.2" text-anchor="start"  textLength="33" lengthAdjust="spacingAndGlyphs">1.26870</text>
<rect x="1581" y="552" width="2" height="1" fill="#000" />
<text x="1586.3" y="556" font-size="9.6" fill="#000" stroke="#000" stroke-width="0.2" text-anchor="start"  textLength="33" lengthAdjust="spacingAndGlyphs">1.25470</text>
<text x="1584.5" y="567.5" font-size="9.6" fill="#000" stroke="#000" stroke-width="0.2" text-anchor="start"  textLength="15" lengthAdjust="spacingAndGlyphs">100</text>
<text x="1583" y="591.0" font-size="9.6" fill="#000" stroke="#000" stroke-width="0.2" text-anchor="start"  textLength="10" lengthAdjust="spacingAndGlyphs">70</text>
<text x="1583" y="628.0" font-size="9.6" fill="#000" stroke="#000" stroke-width="0.2" text-anchor="start"  textLength="10" lengthAdjust="spacingAndGlyphs">30</text>
<text x="1584.5" y="650.0" font-size="9.6" fill="#000" stroke="#000" stroke-width="0.2" text-anchor="start"  textLength="5" lengthAdjust="spacingAndGlyphs">0</text>
<rect x="1581" y="587" width="2" height="1" fill="#000" />
<rect x="1581" y="624" width="2" height="1" fill="#000" />
<text x="1584" y="665.8" font-size="9.6" fill="#000" stroke="#000" stroke-width="0.2" text-anchor="start"  textLength="37.5" lengthAdjust="spacingAndGlyphs">0.032972</text>
<text x="1584" y="720.8" font-size="9.6" fill="#000" stroke="#000" stroke-width="0.2" text-anchor="start"  textLength="17.5" lengthAdjust="spacingAndGlyphs">0.00</text>
<text x="1584" y="747.8" font-size="9.6" fill="#000" stroke="#000" stroke-width="0.2" text-anchor="start"  textLength="40.5" lengthAdjust="spacingAndGlyphs">-0.018154</text>
<rect x="1581" y="717" width="2" height="1" fill="#000" />
<rect x="1582" y="341" width="41" height="11" fill="#ff0000" />
<text x="1586.3" y="350" font-size="9.6" fill="#fff" stroke="#fff" stroke-width="0.2" text-anchor="start"  textLength="33" lengthAdjust="spacingAndGlyphs">1.34206</text>
<rect x="1582" y="387" width="41" height="11" fill="#ff0000" />
<text x="1586.3" y="396" font-size="9.6" fill="#fff" stroke="#fff" stroke-width="0.2" text-anchor="start"  textLength="33" lengthAdjust="spacingAndGlyphs">1.32237</text>
<rect x="1582" y="430" width="41" height="11" fill="#ff0000" />
<text x="1586.3" y="439" font-size="9.6" fill="#fff" stroke="#fff" stroke-width="0.2" text-anchor="start"  textLength="33" lengthAdjust="spacingAndGlyphs">1.30409</text>
<rect x="1582" y="472" width="41" height="11" fill="#00ff00" />
<text x="1586.3" y="481" font-size="9.6" fill="#fff" stroke="#fff" stroke-width="0.2" text-anchor="start"  textLength="33" lengthAdjust="spacingAndGlyphs">1.28607</text>
<rect x="1582" y="509" width="41" height="11" fill="#000000" />
<text x="1586.3" y="518" font-size="9.6" fill="#fff" stroke="#fff" stroke-width="0.2" text-anchor="start"  textLength="33" lengthAdjust="spacingAndGlyphs">1.27055</text>
<rect x="1582" y="528" width="41" height="11" fill="#0000ff" />
<text x="1586.3" y="537" font-size="9.6" fill="#fff" stroke="#fff" stroke-width="0.2" text-anchor="start"  textLength="33" lengthAdjust="spacingAndGlyphs">1.26243</text>
<path d="M7 35 h7 l-3.5 4 z" fill="#000"/>
<text x="19" y="40" font-size="9.6" fill="#000" stroke="#000" stroke-width="0.2" text-anchor="start"  textLength="66" lengthAdjust="spacingAndGlyphs">USDCAD,Daily</text>
<text x="91.5" y="40" font-size="9.6" fill="#000" stroke="#000" stroke-width="0.2" text-anchor="start"  textLength="140.5" lengthAdjust="spacingAndGlyphs">1.27199 1.27213 1.26703 1.27055</text>
<text x="8" y="570" font-size="9.6" fill="#000" stroke="#000" stroke-width="0.2" text-anchor="start"  textLength="68" lengthAdjust="spacingAndGlyphs">RSI(14) 46.7287</text>
<text x="8" y="668" font-size="9.6" fill="#000" stroke="#000" stroke-width="0.2" text-anchor="start"  textLength="154" lengthAdjust="spacingAndGlyphs">MACD(12,26,9) -0.001702 -0.001529</text>
<rect x="4" y="752" width="1" height="3" fill="#000" />
<text x="3.4" y="763.5" font-size="9.6" fill="#000" stroke="#000" stroke-width="0.2" text-anchor="start"  textLength="51.2" lengthAdjust="spacingAndGlyphs">18 Feb 2020</text>
<rect x="68" y="752" width="1" height="3" fill="#000" />
<text x="67.4" y="763.5" font-size="9.6" fill="#000" stroke="#000" stroke-width="0.2" text-anchor="start"  textLength="46.6" lengthAdjust="spacingAndGlyphs">7 Mar 2020</text>
<rect x="132" y="752" width="1" height="3" fill="#000" />
<text x="131.4" y="763.5" font-size="9.6" fill="#000" stroke="#000" stroke-width="0.2" text-anchor="start"  textLength="51.7" lengthAdjust="spacingAndGlyphs">26 Mar 2020</text>
<rect x="196" y="752" width="1" height="3" fill="#000" />
<text x="195.4" y="763.5" font-size="9.6" fill="#000" stroke="#000" stroke-width="0.2" text-anchor="start"  textLength="50.3" lengthAdjust="spacingAndGlyphs">14 Apr 2020</text>
<rect x="260" y="752" width="1" height="3" fill="#000" />
<text x="259.4" y="763.5" font-size="9.6" fill="#000" stroke="#000" stroke-width="0.2" text-anchor="start"  textLength="47.9" lengthAdjust="spacingAndGlyphs">2 May 2020</text>
<rect x="324" y="752" width="1" height="3" fill="#000" />
<text x="323.4" y="763.5" font-size="9.6" fill="#000" stroke="#000" stroke-width="0.2" text-anchor="start"  textLength="53.0" lengthAdjust="spacingAndGlyphs">21 May 2020</text>
<rect x="388" y="752" width="1" height="3" fill="#000" />
<text x="387.4" y="763.5" font-size="9.6" fill="#000" stroke="#000" stroke-width="0.2" text-anchor="start"  textLength="45.4" lengthAdjust="spacingAndGlyphs">9 Jun 2020</text>
<rect x="452" y="752" width="1" height="3" fill="#000" />
<text x="451.4" y="763.5" font-size="9.6" fill="#000" stroke="#000" stroke-width="0.2" text-anchor="start"  textLength="50.5" lengthAdjust="spacingAndGlyphs">27 Jun 2020</text>
<rect x="516" y="752" width="1" height="3" fill="#000" />
<text x="515.4" y="763.5" font-size="9.6" fill="#000" stroke="#000" stroke-width="0.2" text-anchor="start"  textLength="47.5" lengthAdjust="spacingAndGlyphs">16 Jul 2020</text>
<rect x="580" y="752" width="1" height="3" fill="#000" />
<text x="579.4" y="763.5" font-size="9.6" fill="#000" stroke="#000" stroke-width="0.2" text-anchor="start"  textLength="47.1" lengthAdjust="spacingAndGlyphs">4 Aug 2020</text>
<rect x="644" y="752" width="1" height="3" fill="#000" />
<text x="643.4" y="763.5" font-size="9.6" fill="#000" stroke="#000" stroke-width="0.2" text-anchor="start"  textLength="52.2" lengthAdjust="spacingAndGlyphs">22 Aug 2020</text>
<rect x="708" y="752" width="1" height="3" fill="#000" />
<text x="707.4" y="763.5" font-size="9.6" fill="#000" stroke="#000" stroke-width="0.2" text-anchor="start"  textLength="51.5" lengthAdjust="spacingAndGlyphs">10 Sep 2020</text>
<rect x="772" y="752" width="1" height="3" fill="#000" />
<text x="771.4" y="763.5" font-size="9.6" fill="#000" stroke="#000" stroke-width="0.2" text-anchor="start"  textLength="51.5" lengthAdjust="spacingAndGlyphs">29 Sep 2020</text>
<rect x="836" y="752" width="1" height="3" fill="#000" />
<text x="835.4" y="763.5" font-size="9.6" fill="#000" stroke="#000" stroke-width="0.2" text-anchor="start"  textLength="50.3" lengthAdjust="spacingAndGlyphs">17 Oct 2020</text>
<rect x="900" y="752" width="1" height="3" fill="#000" />
<text x="899.4" y="763.5" font-size="9.6" fill="#000" stroke="#000" stroke-width="0.2" text-anchor="start"  textLength="47.1" lengthAdjust="spacingAndGlyphs">5 Nov 2020</text>
<rect x="964" y="752" width="1" height="3" fill="#000" />
<text x="963.4" y="763.5" font-size="9.6" fill="#000" stroke="#000" stroke-width="0.2" text-anchor="start"  textLength="52.2" lengthAdjust="spacingAndGlyphs">24 Nov 2020</text>
<rect x="1028" y="752" width="1" height="3" fill="#000" />
<text x="1027.4" y="763.5" font-size="9.6" fill="#000" stroke="#000" stroke-width="0.2" text-anchor="start"  textLength="51.8" lengthAdjust="spacingAndGlyphs">12 Dec 2020</text>
<rect x="1092" y="752" width="1" height="3" fill="#000" />
<text x="1091.4" y="763.5" font-size="9.6" fill="#000" stroke="#000" stroke-width="0.2" text-anchor="start"  textLength="45.1" lengthAdjust="spacingAndGlyphs">1 Jan 2021</text>
<rect x="1156" y="752" width="1" height="3" fill="#000" />
<text x="1155.4" y="763.5" font-size="9.6" fill="#000" stroke="#000" stroke-width="0.2" text-anchor="start"  textLength="50.2" lengthAdjust="spacingAndGlyphs">21 Jan 2021</text>
<rect x="1220" y="752" width="1" height="3" fill="#000" />
<text x="1219.4" y="763.5" font-size="9.6" fill="#000" stroke="#000" stroke-width="0.2" text-anchor="start"  textLength="46.1" lengthAdjust="spacingAndGlyphs">9 Feb 2021</text>
<rect x="0" y="774" width="313" height="1" fill="#000" />
<rect x="416" y="774" width="1212" height="1" fill="#000" />
<rect x="0" y="775" width="1" height="18" fill="#606060" />
<rect x="1" y="775" width="1" height="18" fill="#ffffff" />
<rect x="313" y="773" width="104" height="20" fill="#ffffff" />
<rect x="313" y="774" width="1" height="19" fill="#000" />
<rect x="416" y="774" width="1" height="19" fill="#000" />
<rect x="313" y="792" width="104" height="1" fill="#000" />
<text x="17" y="789" font-size="12.6" fill="#707070" stroke="#707070" stroke-width="0" text-anchor="start"  textLength="80" lengthAdjust="spacingAndGlyphs">EURUSD,Daily</text>
<text x="119" y="789" font-size="12.6" fill="#707070" stroke="#707070" stroke-width="0" text-anchor="start"  textLength="79" lengthAdjust="spacingAndGlyphs">USDCHF,Daily</text>
<text x="220" y="789" font-size="12.6" fill="#707070" stroke="#707070" stroke-width="0" text-anchor="start"  textLength="82" lengthAdjust="spacingAndGlyphs">AUDUSD,Daily</text>
<text x="324" y="789" font-size="12.6" fill="#000" stroke="#000" stroke-width="0" text-anchor="start"  textLength="81" lengthAdjust="spacingAndGlyphs">USDCAD,Daily</text>
<text x="427" y="789" font-size="12.6" fill="#707070" stroke="#707070" stroke-width="0" text-anchor="start"  textLength="83" lengthAdjust="spacingAndGlyphs">USDCNH,Daily</text>
<text x="533" y="789" font-size="12.6" fill="#707070" stroke="#707070" stroke-width="0" text-anchor="start"  textLength="80" lengthAdjust="spacingAndGlyphs">EURUSD,Daily</text>
<text x="637" y="789" font-size="12.6" fill="#707070" stroke="#707070" stroke-width="0" text-anchor="start"  textLength="68" lengthAdjust="spacingAndGlyphs">GBPUSD,H4</text>
<text x="728" y="789" font-size="12.6" fill="#707070" stroke="#707070" stroke-width="0" text-anchor="start"  textLength="81" lengthAdjust="spacingAndGlyphs">XAUUSD,Daily</text>
<text x="832" y="789" font-size="12.6" fill="#707070" stroke="#707070" stroke-width="0" text-anchor="start"  textLength="50" lengthAdjust="spacingAndGlyphs">HK50,H1</text>
<text x="904" y="789" font-size="12.6" fill="#707070" stroke="#707070" stroke-width="0" text-anchor="start"  textLength="57" lengthAdjust="spacingAndGlyphs">UK100,H1</text>
<text x="984" y="789" font-size="12.6" fill="#707070" stroke="#707070" stroke-width="0" text-anchor="start"  textLength="57" lengthAdjust="spacingAndGlyphs">UK100,H1</text>
<text x="1064" y="789" font-size="12.6" fill="#707070" stroke="#707070" stroke-width="0" text-anchor="start"  textLength="57" lengthAdjust="spacingAndGlyphs">GER30,H1</text>
<text x="1143" y="789" font-size="12.6" fill="#707070" stroke="#707070" stroke-width="0" text-anchor="start"  textLength="55" lengthAdjust="spacingAndGlyphs">FRA40,H1</text>
<text x="1219" y="789" font-size="12.6" fill="#707070" stroke="#707070" stroke-width="0" text-anchor="start"  textLength="63" lengthAdjust="spacingAndGlyphs">USOil,Daily</text>
<text x="1303" y="789" font-size="12.6" fill="#707070" stroke="#707070" stroke-width="0" text-anchor="start"  textLength="63" lengthAdjust="spacingAndGlyphs">USDJPY,H1</text>
<text x="1387" y="789" font-size="12.6" fill="#707070" stroke="#707070" stroke-width="0" text-anchor="start"  textLength="59" lengthAdjust="spacingAndGlyphs">DJ30,Daily</text>
<text x="1467" y="789" font-size="12.6" fill="#707070" stroke="#707070" stroke-width="0" text-anchor="start"  textLength="79" lengthAdjust="spacingAndGlyphs">CHINA300,H1</text>
<text x="1567" y="789" font-size="12.6" fill="#707070" stroke="#707070" stroke-width="0" text-anchor="start"  textLength="23" lengthAdjust="spacingAndGlyphs">USC</text>
<rect x="109" y="778" width="1" height="12" fill="#808080" />
<rect x="209" y="778" width="1" height="12" fill="#808080" />
<rect x="522" y="778" width="1" height="12" fill="#808080" />
<rect x="626" y="778" width="1" height="12" fill="#808080" />
<rect x="718" y="778" width="1" height="12" fill="#808080" />
<rect x="822" y="778" width="1" height="12" fill="#808080" />
<rect x="894" y="778" width="1" height="12" fill="#808080" />
<rect x="974" y="778" width="1" height="12" fill="#808080" />
<rect x="1053" y="778" width="1" height="12" fill="#808080" />
<rect x="1133" y="778" width="1" height="12" fill="#808080" />
<rect x="1209" y="778" width="1" height="12" fill="#808080" />
<rect x="1293" y="778" width="1" height="12" fill="#808080" />
<rect x="1377" y="778" width="1" height="12" fill="#808080" />
<rect x="1458" y="778" width="1" height="12" fill="#808080" />
<rect x="1557" y="778" width="1" height="12" fill="#808080" />
<path d="M1599.5 779.5 v7 l-3.5 -3.5 z" fill="#909090" shape-rendering="geometricPrecision"/>
<path d="M1614.8 779.5 v7 l3.5 -3.5 z" fill="#000" shape-rendering="geometricPrecision"/>
<rect x="1627" y="0" width="1" height="797" fill="#ffffff" />
<rect x="1628" y="0" width="1" height="797" fill="#000000" />
</svg>
</body></html>
